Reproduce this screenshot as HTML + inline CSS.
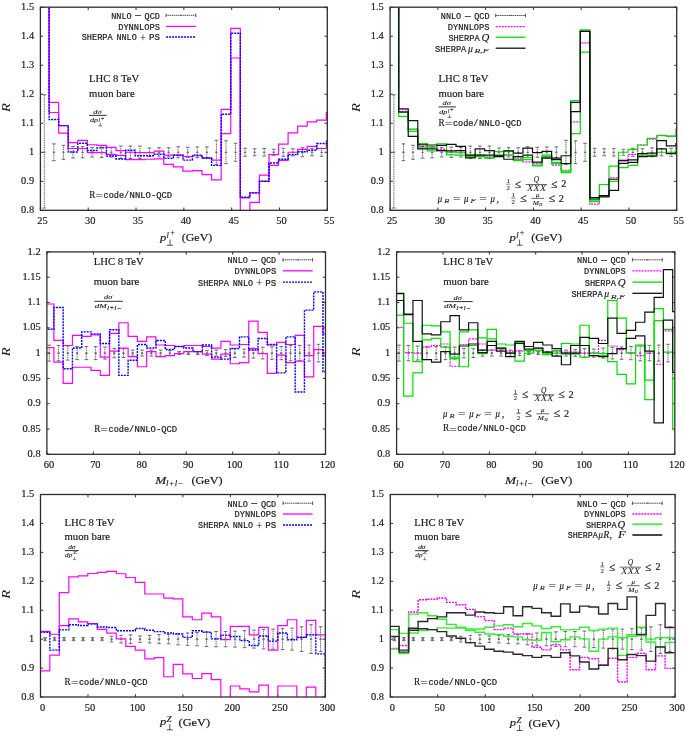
<!DOCTYPE html><html><head><meta charset="utf-8"><style>html,body{margin:0;padding:0;background:#fff;}svg{display:block;will-change:transform;}</style></head><body>
<svg width="685" height="738" viewBox="0 0 685 738">
<rect width="685" height="738" fill="#fff"/>
<clipPath id="c0"><rect x="40.4" y="7.2" width="286.9" height="203.1"/></clipPath>
<path d="M40.4,210.3h2.8M327.3,210.3h-2.8" stroke="#333" stroke-width="1" fill="none"/>
<text x="34.1" y="212.9" font-size="10.4" font-family='"Liberation Serif", serif' text-anchor="end" fill="#1a1a1a" stroke="#1a1a1a" stroke-width="0.18">0.8</text>
<path d="M40.4,181.29h2.8M327.3,181.29h-2.8" stroke="#333" stroke-width="1" fill="none"/>
<text x="34.1" y="183.89" font-size="10.4" font-family='"Liberation Serif", serif' text-anchor="end" fill="#1a1a1a" stroke="#1a1a1a" stroke-width="0.18">0.9</text>
<path d="M40.4,152.27h2.8M327.3,152.27h-2.8" stroke="#333" stroke-width="1" fill="none"/>
<text x="34.1" y="154.87" font-size="10.4" font-family='"Liberation Serif", serif' text-anchor="end" fill="#1a1a1a" stroke="#1a1a1a" stroke-width="0.18">1</text>
<path d="M40.4,123.26h2.8M327.3,123.26h-2.8" stroke="#333" stroke-width="1" fill="none"/>
<text x="34.1" y="125.86" font-size="10.4" font-family='"Liberation Serif", serif' text-anchor="end" fill="#1a1a1a" stroke="#1a1a1a" stroke-width="0.18">1.1</text>
<path d="M40.4,94.24h2.8M327.3,94.24h-2.8" stroke="#333" stroke-width="1" fill="none"/>
<text x="34.1" y="96.84" font-size="10.4" font-family='"Liberation Serif", serif' text-anchor="end" fill="#1a1a1a" stroke="#1a1a1a" stroke-width="0.18">1.2</text>
<path d="M40.4,65.23h2.8M327.3,65.23h-2.8" stroke="#333" stroke-width="1" fill="none"/>
<text x="34.1" y="67.83" font-size="10.4" font-family='"Liberation Serif", serif' text-anchor="end" fill="#1a1a1a" stroke="#1a1a1a" stroke-width="0.18">1.3</text>
<path d="M40.4,36.21h2.8M327.3,36.21h-2.8" stroke="#333" stroke-width="1" fill="none"/>
<text x="34.1" y="38.81" font-size="10.4" font-family='"Liberation Serif", serif' text-anchor="end" fill="#1a1a1a" stroke="#1a1a1a" stroke-width="0.18">1.4</text>
<path d="M40.4,7.2h2.8M327.3,7.2h-2.8" stroke="#333" stroke-width="1" fill="none"/>
<text x="34.1" y="9.8" font-size="10.4" font-family='"Liberation Serif", serif' text-anchor="end" fill="#1a1a1a" stroke="#1a1a1a" stroke-width="0.18">1.5</text>
<path d="M40.4,210.3v-2.8M40.4,7.2v2.8" stroke="#333" stroke-width="1" fill="none"/>
<text x="42.4" y="224.1" font-size="10.4" font-family='"Liberation Serif", serif' text-anchor="middle" fill="#1a1a1a" stroke="#1a1a1a" stroke-width="0.18">25</text>
<path d="M88.22,210.3v-2.8M88.22,7.2v2.8" stroke="#333" stroke-width="1" fill="none"/>
<text x="90.22" y="224.1" font-size="10.4" font-family='"Liberation Serif", serif' text-anchor="middle" fill="#1a1a1a" stroke="#1a1a1a" stroke-width="0.18">30</text>
<path d="M136.03,210.3v-2.8M136.03,7.2v2.8" stroke="#333" stroke-width="1" fill="none"/>
<text x="138.03" y="224.1" font-size="10.4" font-family='"Liberation Serif", serif' text-anchor="middle" fill="#1a1a1a" stroke="#1a1a1a" stroke-width="0.18">35</text>
<path d="M183.85,210.3v-2.8M183.85,7.2v2.8" stroke="#333" stroke-width="1" fill="none"/>
<text x="185.85" y="224.1" font-size="10.4" font-family='"Liberation Serif", serif' text-anchor="middle" fill="#1a1a1a" stroke="#1a1a1a" stroke-width="0.18">40</text>
<path d="M231.67,210.3v-2.8M231.67,7.2v2.8" stroke="#333" stroke-width="1" fill="none"/>
<text x="233.67" y="224.1" font-size="10.4" font-family='"Liberation Serif", serif' text-anchor="middle" fill="#1a1a1a" stroke="#1a1a1a" stroke-width="0.18">45</text>
<path d="M279.48,210.3v-2.8M279.48,7.2v2.8" stroke="#333" stroke-width="1" fill="none"/>
<text x="281.48" y="224.1" font-size="10.4" font-family='"Liberation Serif", serif' text-anchor="middle" fill="#1a1a1a" stroke="#1a1a1a" stroke-width="0.18">50</text>
<path d="M327.3,210.3v-2.8M327.3,7.2v2.8" stroke="#333" stroke-width="1" fill="none"/>
<text x="329.3" y="224.1" font-size="10.4" font-family='"Liberation Serif", serif' text-anchor="middle" fill="#1a1a1a" stroke="#1a1a1a" stroke-width="0.18">55</text>
<g clip-path="url(#c0)" fill="none">
<path d="M44.32,94.8V208" stroke="#5e5e5e" stroke-width="0.9" stroke-dasharray="1.2,0.6"/>
<path d="M42.52,94.8h3.6M42.52,208h3.6" stroke="#5e5e5e" stroke-width="0.9"/>
<path d="M43.12,152.27h2.4" stroke="#555" stroke-width="1.2"/>
<path d="M53.88,143.87V160.67" stroke="#5e5e5e" stroke-width="0.9" stroke-dasharray="1.2,0.6"/>
<path d="M52.08,143.87h3.6M52.08,160.67h3.6" stroke="#5e5e5e" stroke-width="0.9"/>
<path d="M52.68,152.27h2.4" stroke="#555" stroke-width="1.2"/>
<path d="M63.44,145.27V159.27" stroke="#5e5e5e" stroke-width="0.9" stroke-dasharray="1.2,0.6"/>
<path d="M61.64,145.27h3.6M61.64,159.27h3.6" stroke="#5e5e5e" stroke-width="0.9"/>
<path d="M62.24,152.27h2.4" stroke="#555" stroke-width="1.2"/>
<path d="M73,146.47V158.07" stroke="#5e5e5e" stroke-width="0.9" stroke-dasharray="1.2,0.6"/>
<path d="M71.2,146.47h3.6M71.2,158.07h3.6" stroke="#5e5e5e" stroke-width="0.9"/>
<path d="M71.8,152.27h2.4" stroke="#555" stroke-width="1.2"/>
<path d="M82.56,146.67V157.87" stroke="#5e5e5e" stroke-width="0.9" stroke-dasharray="1.2,0.6"/>
<path d="M80.76,146.67h3.6M80.76,157.87h3.6" stroke="#5e5e5e" stroke-width="0.9"/>
<path d="M81.36,152.27h2.4" stroke="#555" stroke-width="1.2"/>
<path d="M92.12,147.57V156.97" stroke="#5e5e5e" stroke-width="0.9" stroke-dasharray="1.2,0.6"/>
<path d="M90.32,147.57h3.6M90.32,156.97h3.6" stroke="#5e5e5e" stroke-width="0.9"/>
<path d="M90.92,152.27h2.4" stroke="#555" stroke-width="1.2"/>
<path d="M101.68,147.07V157.47" stroke="#5e5e5e" stroke-width="0.9" stroke-dasharray="1.2,0.6"/>
<path d="M99.88,147.07h3.6M99.88,157.47h3.6" stroke="#5e5e5e" stroke-width="0.9"/>
<path d="M100.48,152.27h2.4" stroke="#555" stroke-width="1.2"/>
<path d="M111.24,147.57V156.97" stroke="#5e5e5e" stroke-width="0.9" stroke-dasharray="1.2,0.6"/>
<path d="M109.44,147.57h3.6M109.44,156.97h3.6" stroke="#5e5e5e" stroke-width="0.9"/>
<path d="M110.04,152.27h2.4" stroke="#555" stroke-width="1.2"/>
<path d="M120.8,146.07V158.47" stroke="#5e5e5e" stroke-width="0.9" stroke-dasharray="1.2,0.6"/>
<path d="M119,146.07h3.6M119,158.47h3.6" stroke="#5e5e5e" stroke-width="0.9"/>
<path d="M119.6,152.27h2.4" stroke="#555" stroke-width="1.2"/>
<path d="M130.36,146.07V158.47" stroke="#5e5e5e" stroke-width="0.9" stroke-dasharray="1.2,0.6"/>
<path d="M128.56,146.07h3.6M128.56,158.47h3.6" stroke="#5e5e5e" stroke-width="0.9"/>
<path d="M129.16,152.27h2.4" stroke="#555" stroke-width="1.2"/>
<path d="M139.92,146.07V158.47" stroke="#5e5e5e" stroke-width="0.9" stroke-dasharray="1.2,0.6"/>
<path d="M138.12,146.07h3.6M138.12,158.47h3.6" stroke="#5e5e5e" stroke-width="0.9"/>
<path d="M138.72,152.27h2.4" stroke="#555" stroke-width="1.2"/>
<path d="M149.48,148.07V156.47" stroke="#5e5e5e" stroke-width="0.9" stroke-dasharray="1.2,0.6"/>
<path d="M147.68,148.07h3.6M147.68,156.47h3.6" stroke="#5e5e5e" stroke-width="0.9"/>
<path d="M148.28,152.27h2.4" stroke="#555" stroke-width="1.2"/>
<path d="M159.04,147.67V156.87" stroke="#5e5e5e" stroke-width="0.9" stroke-dasharray="1.2,0.6"/>
<path d="M157.24,147.67h3.6M157.24,156.87h3.6" stroke="#5e5e5e" stroke-width="0.9"/>
<path d="M157.84,152.27h2.4" stroke="#555" stroke-width="1.2"/>
<path d="M168.6,147.77V156.77" stroke="#5e5e5e" stroke-width="0.9" stroke-dasharray="1.2,0.6"/>
<path d="M166.8,147.77h3.6M166.8,156.77h3.6" stroke="#5e5e5e" stroke-width="0.9"/>
<path d="M167.4,152.27h2.4" stroke="#555" stroke-width="1.2"/>
<path d="M178.16,146.77V157.77" stroke="#5e5e5e" stroke-width="0.9" stroke-dasharray="1.2,0.6"/>
<path d="M176.36,146.77h3.6M176.36,157.77h3.6" stroke="#5e5e5e" stroke-width="0.9"/>
<path d="M176.96,152.27h2.4" stroke="#555" stroke-width="1.2"/>
<path d="M187.72,147.27V157.27" stroke="#5e5e5e" stroke-width="0.9" stroke-dasharray="1.2,0.6"/>
<path d="M185.92,147.27h3.6M185.92,157.27h3.6" stroke="#5e5e5e" stroke-width="0.9"/>
<path d="M186.52,152.27h2.4" stroke="#555" stroke-width="1.2"/>
<path d="M197.28,146.97V157.57" stroke="#5e5e5e" stroke-width="0.9" stroke-dasharray="1.2,0.6"/>
<path d="M195.48,146.97h3.6M195.48,157.57h3.6" stroke="#5e5e5e" stroke-width="0.9"/>
<path d="M196.08,152.27h2.4" stroke="#555" stroke-width="1.2"/>
<path d="M206.84,146.97V157.57" stroke="#5e5e5e" stroke-width="0.9" stroke-dasharray="1.2,0.6"/>
<path d="M205.04,146.97h3.6M205.04,157.57h3.6" stroke="#5e5e5e" stroke-width="0.9"/>
<path d="M205.64,152.27h2.4" stroke="#555" stroke-width="1.2"/>
<path d="M216.4,140.27V164.27" stroke="#5e5e5e" stroke-width="0.9" stroke-dasharray="1.2,0.6"/>
<path d="M214.6,140.27h3.6M214.6,164.27h3.6" stroke="#5e5e5e" stroke-width="0.9"/>
<path d="M215.2,152.27h2.4" stroke="#555" stroke-width="1.2"/>
<path d="M225.96,140.87V163.67" stroke="#5e5e5e" stroke-width="0.9" stroke-dasharray="1.2,0.6"/>
<path d="M224.16,140.87h3.6M224.16,163.67h3.6" stroke="#5e5e5e" stroke-width="0.9"/>
<path d="M224.76,152.27h2.4" stroke="#555" stroke-width="1.2"/>
<path d="M235.52,143.27V161.27" stroke="#5e5e5e" stroke-width="0.9" stroke-dasharray="1.2,0.6"/>
<path d="M233.72,143.27h3.6M233.72,161.27h3.6" stroke="#5e5e5e" stroke-width="0.9"/>
<path d="M234.32,152.27h2.4" stroke="#555" stroke-width="1.2"/>
<path d="M245.08,148.27V156.27" stroke="#5e5e5e" stroke-width="0.9" stroke-dasharray="1.2,0.6"/>
<path d="M243.28,148.27h3.6M243.28,156.27h3.6" stroke="#5e5e5e" stroke-width="0.9"/>
<path d="M243.88,152.27h2.4" stroke="#555" stroke-width="1.2"/>
<path d="M254.64,148.77V155.77" stroke="#5e5e5e" stroke-width="0.9" stroke-dasharray="1.2,0.6"/>
<path d="M252.84,148.77h3.6M252.84,155.77h3.6" stroke="#5e5e5e" stroke-width="0.9"/>
<path d="M253.44,152.27h2.4" stroke="#555" stroke-width="1.2"/>
<path d="M264.2,148.47V156.07" stroke="#5e5e5e" stroke-width="0.9" stroke-dasharray="1.2,0.6"/>
<path d="M262.4,148.47h3.6M262.4,156.07h3.6" stroke="#5e5e5e" stroke-width="0.9"/>
<path d="M263,152.27h2.4" stroke="#555" stroke-width="1.2"/>
<path d="M273.76,149.27V155.27" stroke="#5e5e5e" stroke-width="0.9" stroke-dasharray="1.2,0.6"/>
<path d="M271.96,149.27h3.6M271.96,155.27h3.6" stroke="#5e5e5e" stroke-width="0.9"/>
<path d="M272.56,152.27h2.4" stroke="#555" stroke-width="1.2"/>
<path d="M283.32,148.27V156.27" stroke="#5e5e5e" stroke-width="0.9" stroke-dasharray="1.2,0.6"/>
<path d="M281.52,148.27h3.6M281.52,156.27h3.6" stroke="#5e5e5e" stroke-width="0.9"/>
<path d="M282.12,152.27h2.4" stroke="#555" stroke-width="1.2"/>
<path d="M292.88,148.77V155.77" stroke="#5e5e5e" stroke-width="0.9" stroke-dasharray="1.2,0.6"/>
<path d="M291.08,148.77h3.6M291.08,155.77h3.6" stroke="#5e5e5e" stroke-width="0.9"/>
<path d="M291.68,152.27h2.4" stroke="#555" stroke-width="1.2"/>
<path d="M302.44,147.77V156.77" stroke="#5e5e5e" stroke-width="0.9" stroke-dasharray="1.2,0.6"/>
<path d="M300.64,147.77h3.6M300.64,156.77h3.6" stroke="#5e5e5e" stroke-width="0.9"/>
<path d="M301.24,152.27h2.4" stroke="#555" stroke-width="1.2"/>
<path d="M312,148.77V155.77" stroke="#5e5e5e" stroke-width="0.9" stroke-dasharray="1.2,0.6"/>
<path d="M310.2,148.77h3.6M310.2,155.77h3.6" stroke="#5e5e5e" stroke-width="0.9"/>
<path d="M310.8,152.27h2.4" stroke="#555" stroke-width="1.2"/>
<path d="M321.56,148.27V156.27" stroke="#5e5e5e" stroke-width="0.9" stroke-dasharray="1.2,0.6"/>
<path d="M319.76,148.27h3.6M319.76,156.27h3.6" stroke="#5e5e5e" stroke-width="0.9"/>
<path d="M320.36,152.27h2.4" stroke="#555" stroke-width="1.2"/>
<path d="M39.54,-21.81H49.1V102.37H58.66V133.12H68.22V142.7H77.78V140.38H87.34V144.73H96.9V145.31H106.46V147.34H116.02V150.53H125.58V152.27H135.14V152.56H144.7V152.56H154.26V151.11H163.82V155.17H173.38V155.17H182.94V156.62H192.5V155.75H202.06V158.07H211.62V160.11H221.18V109.33H230.74V28.38H240.3V197.82H249.86V192.89H259.42V175.19H268.98V154.59H278.54V144.15H288.1V132.83H297.66V126.16H307.22V121.81H316.78V120.07H326.34V112.52H335.9" stroke="#ff00ff" stroke-width="1.2" stroke-linejoin="miter"/>
<path d="M39.54,-21.81H49.1V112.52H58.66V125.58H68.22V148.5H77.78V148.5H87.34V152.56H96.9V152.56H106.46V154.3H116.02V155.46H125.58V159.53H135.14V159.53H144.7V159.23H154.26V158.94H163.82V164.46H173.38V166.78H182.94V171.13H192.5V170.55H202.06V174.61H211.62V179.84H221.18V133.7H230.74V57.98H240.3V224.81H249.86V202.47H259.42V181.29H268.98V165.33H278.54V160.4H288.1V152.27H297.66V149.37H307.22V146.47H316.78V148.5H326.34V140.67H335.9" stroke="#ff00ff" stroke-width="1.2" stroke-linejoin="miter"/>
<path d="M39.54,-21.81H49.1V119.49H58.66V125.58H68.22V151.98H77.78V143.28H87.34V150.53H96.9V147.92H106.46V156.04H116.02V158.94H125.58V150.24H135.14V155.75H144.7V155.75H154.26V154.3H163.82V158.36H173.38V155.17H182.94V160.11H192.5V155.17H202.06V158.07H211.62V165.33H221.18V114.26H230.74V33.31H240.3V197.24H249.86V192.89H259.42V181.29H268.98V163.01H278.54V159.23H288.1V154.59H297.66V151.69H307.22V150.24H316.78V143.57H326.34V143.57H335.9" stroke="#0000ff" stroke-width="1.4" stroke-dasharray="2,1" stroke-linejoin="miter"/>
</g>
<rect x="40.4" y="7.2" width="286.9" height="203.1" fill="none" stroke="#2e2e2e" stroke-width="1.3"/>
<text x="0" y="0" font-size="11.8" font-family='"Liberation Serif", serif' font-style="italic" text-anchor="middle" textLength="8.8" lengthAdjust="spacingAndGlyphs" fill="#1a1a1a" transform="translate(10.1,107.5) rotate(-90)">R</text>
<text x="111.2" y="18.7" font-size="9.2" font-family='"Liberation Mono", monospace' text-anchor="start" fill="#1a1a1a" textLength="20.4" lengthAdjust="spacingAndGlyphs" stroke="#1a1a1a" stroke-width="0.2">NNLO</text>
<text x="137.8" y="19.3" font-size="11" font-family='"Liberation Serif", serif' text-anchor="middle" fill="#1a1a1a" textLength="7" lengthAdjust="spacingAndGlyphs" stroke="#1a1a1a" stroke-width="0.1">−</text>
<text x="144.6" y="18.7" font-size="9.2" font-family='"Liberation Mono", monospace' text-anchor="start" fill="#1a1a1a" textLength="15.3" lengthAdjust="spacingAndGlyphs" stroke="#1a1a1a" stroke-width="0.2">QCD</text>
<path d="M166.1,15.3H195.8" stroke="#4a4a4a" stroke-width="0.95" stroke-dasharray="1.4,0.5" fill="none"/>
<path d="M166.1,13.6v3.4M195.8,13.6v3.4" stroke="#4a4a4a" stroke-width="0.95" fill="none"/>
<path d="M179.75,15.9l1.2,-1.6l1.2,1.6z" fill="#666"/>
<text x="118.2" y="29.8" font-size="9.2" font-family='"Liberation Mono", monospace' text-anchor="start" fill="#1a1a1a" textLength="41.7" lengthAdjust="spacingAndGlyphs" stroke="#1a1a1a" stroke-width="0.2">DYNNLOPS</text>
<path d="M166.1,26.4H195.8" stroke="#ff00ff" stroke-width="1.3" fill="none"/>
<text x="81.7" y="40.4" font-size="9.2" font-family='"Liberation Mono", monospace' text-anchor="start" fill="#1a1a1a" textLength="30.9" lengthAdjust="spacingAndGlyphs" stroke="#1a1a1a" stroke-width="0.2">SHERPA</text>
<text x="116.5" y="40.4" font-size="9.2" font-family='"Liberation Mono", monospace' text-anchor="start" fill="#1a1a1a" textLength="20.2" lengthAdjust="spacingAndGlyphs" stroke="#1a1a1a" stroke-width="0.2">NNLO</text>
<text x="142.9" y="42.3" font-size="12.6" font-family='"Liberation Serif", serif' text-anchor="middle" fill="#1a1a1a" textLength="6.4" lengthAdjust="spacingAndGlyphs" >+</text>
<text x="148.9" y="40.4" font-size="9.2" font-family='"Liberation Mono", monospace' text-anchor="start" fill="#1a1a1a" textLength="11" lengthAdjust="spacingAndGlyphs" stroke="#1a1a1a" stroke-width="0.2">PS</text>
<path d="M166.1,37H195.8" stroke="#0000ff" stroke-width="1.3" stroke-dasharray="2,1" fill="none"/>
<text x="89.1" y="82.3" font-size="10.2" font-family='"Liberation Serif", serif' text-anchor="start" fill="#1a1a1a" textLength="50" lengthAdjust="spacingAndGlyphs" stroke="#1a1a1a" stroke-width="0.18">LHC 8 TeV</text>
<text x="89.1" y="96.8" font-size="10.2" font-family='"Liberation Serif", serif' text-anchor="start" fill="#1a1a1a" textLength="45.6" lengthAdjust="spacingAndGlyphs" stroke="#1a1a1a" stroke-width="0.18">muon bare</text>
<path d="M89.2,115.4H106.7" stroke="#1a1a1a" stroke-width="0.9"/>
<text x="97.45" y="113.5" font-size="6.8" font-family='"Liberation Serif", serif' text-anchor="middle" fill="#1a1a1a" font-style="italic" textLength="8.3" lengthAdjust="spacingAndGlyphs" stroke="#1a1a1a" stroke-width="0.1">dσ</text>
<text x="90" y="122.1" font-size="6.8" font-family='"Liberation Serif", serif' text-anchor="start" fill="#1a1a1a" font-style="italic" textLength="8" lengthAdjust="spacingAndGlyphs" stroke="#1a1a1a" stroke-width="0.1">dp</text>
<text x="98.5" y="121.6" font-size="5.6" font-family='"Liberation Serif", serif' text-anchor="start" fill="#1a1a1a" font-style="italic" stroke="#1a1a1a" stroke-width="0.1">l</text>
<text x="102.6" y="120.6" font-size="6.6" font-family='"Liberation Serif", serif' text-anchor="middle" fill="#1a1a1a" textLength="3.2" lengthAdjust="spacingAndGlyphs" stroke="#1a1a1a" stroke-width="0.1">+</text>
<path d="M98.5,125.9H102.1M100.3,125.9V122.9" stroke="#1a1a1a" stroke-width="0.6" fill="none"/>
<text x="89.3" y="197.9" font-size="10.2" font-family='"Liberation Serif", serif' text-anchor="start" fill="#1a1a1a" textLength="6.1" lengthAdjust="spacingAndGlyphs" stroke="#1a1a1a" stroke-width="0.18">R</text>
<text x="95.6" y="199.1" font-size="11.2" font-family='"Liberation Serif", serif' text-anchor="start" fill="#1a1a1a" textLength="7.4" lengthAdjust="spacingAndGlyphs" stroke="#1a1a1a" stroke-width="0.18">=</text>
<text x="103.6" y="197.9" font-size="8.4" font-family='"Liberation Mono", monospace' text-anchor="start" fill="#1a1a1a" textLength="25.6" lengthAdjust="spacingAndGlyphs" stroke="#1a1a1a" stroke-width="0.2">code/</text>
<text x="129.6" y="197.9" font-size="9.2" font-family='"Liberation Mono", monospace' text-anchor="start" fill="#1a1a1a" textLength="42.6" lengthAdjust="spacingAndGlyphs" stroke="#1a1a1a" stroke-width="0.2">NNLO-QCD</text>
<text x="160" y="240.7" font-size="10.6" font-family='"Liberation Serif", serif' text-anchor="start" fill="#1a1a1a" font-style="italic" textLength="6.3" lengthAdjust="spacingAndGlyphs" stroke="#1a1a1a" stroke-width="0.18">p</text>
<text x="166.6" y="237.9" font-size="8" font-family='"Liberation Serif", serif' text-anchor="start" fill="#1a1a1a" font-style="italic" textLength="2.4" lengthAdjust="spacingAndGlyphs" stroke="#1a1a1a" stroke-width="0.1">l</text>
<text x="170.2" y="235" font-size="7.6" font-family='"Liberation Serif", serif' text-anchor="start" fill="#1a1a1a" textLength="4.6" lengthAdjust="spacingAndGlyphs" stroke="#1a1a1a" stroke-width="0.1">+</text>
<path d="M167,245.2H173M170,245.2V239.6" stroke="#1a1a1a" stroke-width="0.75" fill="none"/>
<text x="181.7" y="241.3" font-size="10.4" font-family='"Liberation Serif", serif' text-anchor="start" fill="#1a1a1a" textLength="30.6" lengthAdjust="spacingAndGlyphs" stroke="#1a1a1a" stroke-width="0.18">(GeV)</text>
<clipPath id="c1"><rect x="390.1" y="7.2" width="286.6" height="203.1"/></clipPath>
<path d="M390.1,210.3h2.8M676.7,210.3h-2.8" stroke="#333" stroke-width="1" fill="none"/>
<text x="383.8" y="212.9" font-size="10.4" font-family='"Liberation Serif", serif' text-anchor="end" fill="#1a1a1a" stroke="#1a1a1a" stroke-width="0.18">0.8</text>
<path d="M390.1,181.29h2.8M676.7,181.29h-2.8" stroke="#333" stroke-width="1" fill="none"/>
<text x="383.8" y="183.89" font-size="10.4" font-family='"Liberation Serif", serif' text-anchor="end" fill="#1a1a1a" stroke="#1a1a1a" stroke-width="0.18">0.9</text>
<path d="M390.1,152.27h2.8M676.7,152.27h-2.8" stroke="#333" stroke-width="1" fill="none"/>
<text x="383.8" y="154.87" font-size="10.4" font-family='"Liberation Serif", serif' text-anchor="end" fill="#1a1a1a" stroke="#1a1a1a" stroke-width="0.18">1</text>
<path d="M390.1,123.26h2.8M676.7,123.26h-2.8" stroke="#333" stroke-width="1" fill="none"/>
<text x="383.8" y="125.86" font-size="10.4" font-family='"Liberation Serif", serif' text-anchor="end" fill="#1a1a1a" stroke="#1a1a1a" stroke-width="0.18">1.1</text>
<path d="M390.1,94.24h2.8M676.7,94.24h-2.8" stroke="#333" stroke-width="1" fill="none"/>
<text x="383.8" y="96.84" font-size="10.4" font-family='"Liberation Serif", serif' text-anchor="end" fill="#1a1a1a" stroke="#1a1a1a" stroke-width="0.18">1.2</text>
<path d="M390.1,65.23h2.8M676.7,65.23h-2.8" stroke="#333" stroke-width="1" fill="none"/>
<text x="383.8" y="67.83" font-size="10.4" font-family='"Liberation Serif", serif' text-anchor="end" fill="#1a1a1a" stroke="#1a1a1a" stroke-width="0.18">1.3</text>
<path d="M390.1,36.21h2.8M676.7,36.21h-2.8" stroke="#333" stroke-width="1" fill="none"/>
<text x="383.8" y="38.81" font-size="10.4" font-family='"Liberation Serif", serif' text-anchor="end" fill="#1a1a1a" stroke="#1a1a1a" stroke-width="0.18">1.4</text>
<path d="M390.1,7.2h2.8M676.7,7.2h-2.8" stroke="#333" stroke-width="1" fill="none"/>
<text x="383.8" y="9.8" font-size="10.4" font-family='"Liberation Serif", serif' text-anchor="end" fill="#1a1a1a" stroke="#1a1a1a" stroke-width="0.18">1.5</text>
<path d="M390.1,210.3v-2.8M390.1,7.2v2.8" stroke="#333" stroke-width="1" fill="none"/>
<text x="392.1" y="224.1" font-size="10.4" font-family='"Liberation Serif", serif' text-anchor="middle" fill="#1a1a1a" stroke="#1a1a1a" stroke-width="0.18">25</text>
<path d="M437.87,210.3v-2.8M437.87,7.2v2.8" stroke="#333" stroke-width="1" fill="none"/>
<text x="439.87" y="224.1" font-size="10.4" font-family='"Liberation Serif", serif' text-anchor="middle" fill="#1a1a1a" stroke="#1a1a1a" stroke-width="0.18">30</text>
<path d="M485.63,210.3v-2.8M485.63,7.2v2.8" stroke="#333" stroke-width="1" fill="none"/>
<text x="487.63" y="224.1" font-size="10.4" font-family='"Liberation Serif", serif' text-anchor="middle" fill="#1a1a1a" stroke="#1a1a1a" stroke-width="0.18">35</text>
<path d="M533.4,210.3v-2.8M533.4,7.2v2.8" stroke="#333" stroke-width="1" fill="none"/>
<text x="535.4" y="224.1" font-size="10.4" font-family='"Liberation Serif", serif' text-anchor="middle" fill="#1a1a1a" stroke="#1a1a1a" stroke-width="0.18">40</text>
<path d="M581.17,210.3v-2.8M581.17,7.2v2.8" stroke="#333" stroke-width="1" fill="none"/>
<text x="583.17" y="224.1" font-size="10.4" font-family='"Liberation Serif", serif' text-anchor="middle" fill="#1a1a1a" stroke="#1a1a1a" stroke-width="0.18">45</text>
<path d="M628.93,210.3v-2.8M628.93,7.2v2.8" stroke="#333" stroke-width="1" fill="none"/>
<text x="630.93" y="224.1" font-size="10.4" font-family='"Liberation Serif", serif' text-anchor="middle" fill="#1a1a1a" stroke="#1a1a1a" stroke-width="0.18">50</text>
<path d="M676.7,210.3v-2.8M676.7,7.2v2.8" stroke="#333" stroke-width="1" fill="none"/>
<text x="678.7" y="224.1" font-size="10.4" font-family='"Liberation Serif", serif' text-anchor="middle" fill="#1a1a1a" stroke="#1a1a1a" stroke-width="0.18">55</text>
<g clip-path="url(#c1)" fill="none">
<path d="M393.88,94.8V208" stroke="#5e5e5e" stroke-width="0.9" stroke-dasharray="1.2,0.6"/>
<path d="M392.08,94.8h3.6M392.08,208h3.6" stroke="#5e5e5e" stroke-width="0.9"/>
<path d="M392.68,152.27h2.4" stroke="#555" stroke-width="1.2"/>
<path d="M403.44,143.87V160.67" stroke="#5e5e5e" stroke-width="0.9" stroke-dasharray="1.2,0.6"/>
<path d="M401.64,143.87h3.6M401.64,160.67h3.6" stroke="#5e5e5e" stroke-width="0.9"/>
<path d="M402.24,152.27h2.4" stroke="#555" stroke-width="1.2"/>
<path d="M413,145.27V159.27" stroke="#5e5e5e" stroke-width="0.9" stroke-dasharray="1.2,0.6"/>
<path d="M411.2,145.27h3.6M411.2,159.27h3.6" stroke="#5e5e5e" stroke-width="0.9"/>
<path d="M411.8,152.27h2.4" stroke="#555" stroke-width="1.2"/>
<path d="M422.56,146.47V158.07" stroke="#5e5e5e" stroke-width="0.9" stroke-dasharray="1.2,0.6"/>
<path d="M420.76,146.47h3.6M420.76,158.07h3.6" stroke="#5e5e5e" stroke-width="0.9"/>
<path d="M421.36,152.27h2.4" stroke="#555" stroke-width="1.2"/>
<path d="M432.12,146.67V157.87" stroke="#5e5e5e" stroke-width="0.9" stroke-dasharray="1.2,0.6"/>
<path d="M430.32,146.67h3.6M430.32,157.87h3.6" stroke="#5e5e5e" stroke-width="0.9"/>
<path d="M430.92,152.27h2.4" stroke="#555" stroke-width="1.2"/>
<path d="M441.68,147.57V156.97" stroke="#5e5e5e" stroke-width="0.9" stroke-dasharray="1.2,0.6"/>
<path d="M439.88,147.57h3.6M439.88,156.97h3.6" stroke="#5e5e5e" stroke-width="0.9"/>
<path d="M440.48,152.27h2.4" stroke="#555" stroke-width="1.2"/>
<path d="M451.24,147.07V157.47" stroke="#5e5e5e" stroke-width="0.9" stroke-dasharray="1.2,0.6"/>
<path d="M449.44,147.07h3.6M449.44,157.47h3.6" stroke="#5e5e5e" stroke-width="0.9"/>
<path d="M450.04,152.27h2.4" stroke="#555" stroke-width="1.2"/>
<path d="M460.8,147.57V156.97" stroke="#5e5e5e" stroke-width="0.9" stroke-dasharray="1.2,0.6"/>
<path d="M459,147.57h3.6M459,156.97h3.6" stroke="#5e5e5e" stroke-width="0.9"/>
<path d="M459.6,152.27h2.4" stroke="#555" stroke-width="1.2"/>
<path d="M470.36,146.07V158.47" stroke="#5e5e5e" stroke-width="0.9" stroke-dasharray="1.2,0.6"/>
<path d="M468.56,146.07h3.6M468.56,158.47h3.6" stroke="#5e5e5e" stroke-width="0.9"/>
<path d="M469.16,152.27h2.4" stroke="#555" stroke-width="1.2"/>
<path d="M479.92,146.07V158.47" stroke="#5e5e5e" stroke-width="0.9" stroke-dasharray="1.2,0.6"/>
<path d="M478.12,146.07h3.6M478.12,158.47h3.6" stroke="#5e5e5e" stroke-width="0.9"/>
<path d="M478.72,152.27h2.4" stroke="#555" stroke-width="1.2"/>
<path d="M489.48,146.07V158.47" stroke="#5e5e5e" stroke-width="0.9" stroke-dasharray="1.2,0.6"/>
<path d="M487.68,146.07h3.6M487.68,158.47h3.6" stroke="#5e5e5e" stroke-width="0.9"/>
<path d="M488.28,152.27h2.4" stroke="#555" stroke-width="1.2"/>
<path d="M499.04,148.07V156.47" stroke="#5e5e5e" stroke-width="0.9" stroke-dasharray="1.2,0.6"/>
<path d="M497.24,148.07h3.6M497.24,156.47h3.6" stroke="#5e5e5e" stroke-width="0.9"/>
<path d="M497.84,152.27h2.4" stroke="#555" stroke-width="1.2"/>
<path d="M508.6,147.67V156.87" stroke="#5e5e5e" stroke-width="0.9" stroke-dasharray="1.2,0.6"/>
<path d="M506.8,147.67h3.6M506.8,156.87h3.6" stroke="#5e5e5e" stroke-width="0.9"/>
<path d="M507.4,152.27h2.4" stroke="#555" stroke-width="1.2"/>
<path d="M518.16,147.77V156.77" stroke="#5e5e5e" stroke-width="0.9" stroke-dasharray="1.2,0.6"/>
<path d="M516.36,147.77h3.6M516.36,156.77h3.6" stroke="#5e5e5e" stroke-width="0.9"/>
<path d="M516.96,152.27h2.4" stroke="#555" stroke-width="1.2"/>
<path d="M527.72,146.77V157.77" stroke="#5e5e5e" stroke-width="0.9" stroke-dasharray="1.2,0.6"/>
<path d="M525.92,146.77h3.6M525.92,157.77h3.6" stroke="#5e5e5e" stroke-width="0.9"/>
<path d="M526.52,152.27h2.4" stroke="#555" stroke-width="1.2"/>
<path d="M537.28,147.27V157.27" stroke="#5e5e5e" stroke-width="0.9" stroke-dasharray="1.2,0.6"/>
<path d="M535.48,147.27h3.6M535.48,157.27h3.6" stroke="#5e5e5e" stroke-width="0.9"/>
<path d="M536.08,152.27h2.4" stroke="#555" stroke-width="1.2"/>
<path d="M546.84,146.97V157.57" stroke="#5e5e5e" stroke-width="0.9" stroke-dasharray="1.2,0.6"/>
<path d="M545.04,146.97h3.6M545.04,157.57h3.6" stroke="#5e5e5e" stroke-width="0.9"/>
<path d="M545.64,152.27h2.4" stroke="#555" stroke-width="1.2"/>
<path d="M556.4,146.97V157.57" stroke="#5e5e5e" stroke-width="0.9" stroke-dasharray="1.2,0.6"/>
<path d="M554.6,146.97h3.6M554.6,157.57h3.6" stroke="#5e5e5e" stroke-width="0.9"/>
<path d="M555.2,152.27h2.4" stroke="#555" stroke-width="1.2"/>
<path d="M565.96,140.27V164.27" stroke="#5e5e5e" stroke-width="0.9" stroke-dasharray="1.2,0.6"/>
<path d="M564.16,140.27h3.6M564.16,164.27h3.6" stroke="#5e5e5e" stroke-width="0.9"/>
<path d="M564.76,152.27h2.4" stroke="#555" stroke-width="1.2"/>
<path d="M575.52,140.87V163.67" stroke="#5e5e5e" stroke-width="0.9" stroke-dasharray="1.2,0.6"/>
<path d="M573.72,140.87h3.6M573.72,163.67h3.6" stroke="#5e5e5e" stroke-width="0.9"/>
<path d="M574.32,152.27h2.4" stroke="#555" stroke-width="1.2"/>
<path d="M585.08,143.27V161.27" stroke="#5e5e5e" stroke-width="0.9" stroke-dasharray="1.2,0.6"/>
<path d="M583.28,143.27h3.6M583.28,161.27h3.6" stroke="#5e5e5e" stroke-width="0.9"/>
<path d="M583.88,152.27h2.4" stroke="#555" stroke-width="1.2"/>
<path d="M594.64,148.27V156.27" stroke="#5e5e5e" stroke-width="0.9" stroke-dasharray="1.2,0.6"/>
<path d="M592.84,148.27h3.6M592.84,156.27h3.6" stroke="#5e5e5e" stroke-width="0.9"/>
<path d="M593.44,152.27h2.4" stroke="#555" stroke-width="1.2"/>
<path d="M604.2,148.77V155.77" stroke="#5e5e5e" stroke-width="0.9" stroke-dasharray="1.2,0.6"/>
<path d="M602.4,148.77h3.6M602.4,155.77h3.6" stroke="#5e5e5e" stroke-width="0.9"/>
<path d="M603,152.27h2.4" stroke="#555" stroke-width="1.2"/>
<path d="M613.76,148.47V156.07" stroke="#5e5e5e" stroke-width="0.9" stroke-dasharray="1.2,0.6"/>
<path d="M611.96,148.47h3.6M611.96,156.07h3.6" stroke="#5e5e5e" stroke-width="0.9"/>
<path d="M612.56,152.27h2.4" stroke="#555" stroke-width="1.2"/>
<path d="M623.32,149.27V155.27" stroke="#5e5e5e" stroke-width="0.9" stroke-dasharray="1.2,0.6"/>
<path d="M621.52,149.27h3.6M621.52,155.27h3.6" stroke="#5e5e5e" stroke-width="0.9"/>
<path d="M622.12,152.27h2.4" stroke="#555" stroke-width="1.2"/>
<path d="M632.88,148.27V156.27" stroke="#5e5e5e" stroke-width="0.9" stroke-dasharray="1.2,0.6"/>
<path d="M631.08,148.27h3.6M631.08,156.27h3.6" stroke="#5e5e5e" stroke-width="0.9"/>
<path d="M631.68,152.27h2.4" stroke="#555" stroke-width="1.2"/>
<path d="M642.44,148.77V155.77" stroke="#5e5e5e" stroke-width="0.9" stroke-dasharray="1.2,0.6"/>
<path d="M640.64,148.77h3.6M640.64,155.77h3.6" stroke="#5e5e5e" stroke-width="0.9"/>
<path d="M641.24,152.27h2.4" stroke="#555" stroke-width="1.2"/>
<path d="M652,147.77V156.77" stroke="#5e5e5e" stroke-width="0.9" stroke-dasharray="1.2,0.6"/>
<path d="M650.2,147.77h3.6M650.2,156.77h3.6" stroke="#5e5e5e" stroke-width="0.9"/>
<path d="M650.8,152.27h2.4" stroke="#555" stroke-width="1.2"/>
<path d="M661.56,148.77V155.77" stroke="#5e5e5e" stroke-width="0.9" stroke-dasharray="1.2,0.6"/>
<path d="M659.76,148.77h3.6M659.76,155.77h3.6" stroke="#5e5e5e" stroke-width="0.9"/>
<path d="M660.36,152.27h2.4" stroke="#555" stroke-width="1.2"/>
<path d="M671.12,148.27V156.27" stroke="#5e5e5e" stroke-width="0.9" stroke-dasharray="1.2,0.6"/>
<path d="M669.32,148.27h3.6M669.32,156.27h3.6" stroke="#5e5e5e" stroke-width="0.9"/>
<path d="M669.92,152.27h2.4" stroke="#555" stroke-width="1.2"/>
<path d="M389.1,-21.81H398.66V109.62H408.22V129.06H417.78V146.18H427.34V147.05H436.9V149.37H446.46V152.27H456.02V152.85H465.58V155.75H475.14V156.62H484.7V156.91H494.26V155.17H503.82V154.88H513.38V158.07H522.94V161.85H532.5V163.59H542.06V157.49H551.62V165.04H561.18V170.26H570.74V121.81H580.3V42.89H589.86V204.21H599.42V196.37H608.98V177.8H618.54V161.27H628.1V154.3H637.66V145.02H647.22V139.22H656.78V135.73H666.34V135.73H675.9V134.86H685.46" stroke="#ff00ff" stroke-width="1.2" stroke-dasharray="2,1" stroke-linejoin="miter"/>
<path d="M389.1,-21.81H398.66V112.52H408.22V129.35H417.78V143.57H427.34V147.05H436.9V143.86H446.46V152.27H456.02V152.27H465.58V155.17H475.14V155.17H484.7V157.49H494.26V151.69H503.82V151.11H513.38V160.69H522.94V157.49H532.5V165.91H542.06V155.17H551.62V163.59H561.18V172.58H570.74V100.63H580.3V29.95H589.86V200.15H599.42V184.48H608.98V166.2H618.54V152.27H628.1V149.37H637.66V145.02H647.22V138.34H656.78V135.44H666.34V136.31H675.9V129.06H685.46" stroke="#00e000" stroke-width="1.2" stroke-linejoin="miter"/>
<path d="M389.1,-21.81H398.66V116.29H408.22V131.38H417.78V147.92H427.34V150.82H436.9V150.53H446.46V154.88H456.02V155.17H465.58V156.62H475.14V156.62H484.7V158.07H494.26V155.17H503.82V155.17H513.38V159.53H522.94V159.53H532.5V165.33H542.06V156.62H551.62V162.43H561.18V171.13H570.74V133.7H580.3V52.17H589.86V201.6H599.42V195.79H608.98V181.29H618.54V167.65H628.1V165.33H637.66V155.17H647.22V155.17H656.78V152.27H666.34V152.27H675.9V146.47H685.46" stroke="#00e000" stroke-width="1.2" stroke-linejoin="miter"/>
<path d="M389.1,-21.81H398.66V108.75H408.22V120.65H417.78V144.73H427.34V145.02H436.9V145.45H446.46V144.44H456.02V146.47H465.58V155.17H475.14V148.79H484.7V150.53H494.26V155.75H503.82V150.82H513.38V153.14H522.94V148.21H532.5V152.56H542.06V151.4H551.62V158.07H561.18V155.75H570.74V102.37H580.3V31.28H589.86V197.53H599.42V195.5H608.98V179.25H618.54V160.4H628.1V159.82H637.66V153.72H647.22V153.14H656.78V140.67H666.34V145.89H675.9V143.57H685.46" stroke="#111111" stroke-width="1.2" stroke-linejoin="miter"/>
<path d="M389.1,-21.81H398.66V111.94H408.22V136.31H417.78V148.79H427.34V148.79H436.9V150.53H446.46V150.82H456.02V150.53H465.58V157.78H475.14V155.17H484.7V155.17H494.26V156.62H503.82V159.23H513.38V156.62H522.94V155.17H532.5V162.14H542.06V158.07H551.62V159.53H561.18V163.59H570.74V111.65H580.3V31.28H589.86V198.98H599.42V196.95H608.98V190.28H618.54V163.3H628.1V162.43H637.66V156.62H647.22V156.04H656.78V148.79H666.34V153.72H675.9V152.27H685.46" stroke="#111111" stroke-width="1.2" stroke-linejoin="miter"/>
</g>
<rect x="390.1" y="7.2" width="286.6" height="203.1" fill="none" stroke="#2e2e2e" stroke-width="1.3"/>
<text x="0" y="0" font-size="11.8" font-family='"Liberation Serif", serif' font-style="italic" text-anchor="middle" textLength="8.8" lengthAdjust="spacingAndGlyphs" fill="#1a1a1a" transform="translate(359.8,107.5) rotate(-90)">R</text>
<text x="440.8" y="18.9" font-size="9.2" font-family='"Liberation Mono", monospace' text-anchor="start" fill="#1a1a1a" textLength="20.4" lengthAdjust="spacingAndGlyphs" stroke="#1a1a1a" stroke-width="0.2">NNLO</text>
<text x="467.4" y="19.5" font-size="11" font-family='"Liberation Serif", serif' text-anchor="middle" fill="#1a1a1a" textLength="7" lengthAdjust="spacingAndGlyphs" stroke="#1a1a1a" stroke-width="0.1">−</text>
<text x="474.2" y="18.9" font-size="9.2" font-family='"Liberation Mono", monospace' text-anchor="start" fill="#1a1a1a" textLength="15.3" lengthAdjust="spacingAndGlyphs" stroke="#1a1a1a" stroke-width="0.2">QCD</text>
<path d="M495.7,15.5H525.5" stroke="#4a4a4a" stroke-width="0.95" stroke-dasharray="1.4,0.5" fill="none"/>
<path d="M495.7,13.8v3.4M525.5,13.8v3.4" stroke="#4a4a4a" stroke-width="0.95" fill="none"/>
<path d="M509.4,16.1l1.2,-1.6l1.2,1.6z" fill="#666"/>
<text x="447.8" y="30" font-size="9.2" font-family='"Liberation Mono", monospace' text-anchor="start" fill="#1a1a1a" textLength="41.7" lengthAdjust="spacingAndGlyphs" stroke="#1a1a1a" stroke-width="0.2">DYNNLOPS</text>
<path d="M495.7,26.6H525.5" stroke="#ff00ff" stroke-width="1.3" stroke-dasharray="2,1" fill="none"/>
<text x="448.4" y="40.6" font-size="9.2" font-family='"Liberation Mono", monospace' text-anchor="start" fill="#1a1a1a" textLength="31.2" lengthAdjust="spacingAndGlyphs" stroke="#1a1a1a" stroke-width="0.2">SHERPA</text>
<text x="481.4" y="40.6" font-size="10.4" font-family='"Liberation Serif", serif' text-anchor="start" fill="#1a1a1a" font-style="italic" textLength="7.8" lengthAdjust="spacingAndGlyphs" stroke="#1a1a1a" stroke-width="0.18">Q</text>
<path d="M495.7,37.2H525.5" stroke="#00e000" stroke-width="1.3" fill="none"/>
<text x="435.1" y="51.6" font-size="9.2" font-family='"Liberation Mono", monospace' text-anchor="start" fill="#1a1a1a" textLength="31.2" lengthAdjust="spacingAndGlyphs" stroke="#1a1a1a" stroke-width="0.2">SHERPA</text>
<text x="467.9" y="51.6" font-size="10.4" font-family='"Liberation Serif", serif' text-anchor="start" fill="#1a1a1a" font-style="italic" textLength="4.9" lengthAdjust="spacingAndGlyphs" stroke="#1a1a1a" stroke-width="0.18">μ</text>
<text x="474.5" y="53.4" font-size="6.8" font-family='"Liberation Serif", serif' text-anchor="start" fill="#1a1a1a" font-style="italic" textLength="14" lengthAdjust="spacingAndGlyphs" stroke="#1a1a1a" stroke-width="0.1">R,F</text>
<path d="M495.7,48.2H525.5" stroke="#111111" stroke-width="1.3" fill="none"/>
<text x="438.5" y="81.8" font-size="10.2" font-family='"Liberation Serif", serif' text-anchor="start" fill="#1a1a1a" textLength="50" lengthAdjust="spacingAndGlyphs" stroke="#1a1a1a" stroke-width="0.18">LHC 8 TeV</text>
<text x="438.5" y="96.8" font-size="10.2" font-family='"Liberation Serif", serif' text-anchor="start" fill="#1a1a1a" textLength="45.6" lengthAdjust="spacingAndGlyphs" stroke="#1a1a1a" stroke-width="0.18">muon bare</text>
<path d="M438.5,106.9H456" stroke="#1a1a1a" stroke-width="0.9"/>
<text x="446.75" y="105" font-size="6.8" font-family='"Liberation Serif", serif' text-anchor="middle" fill="#1a1a1a" font-style="italic" textLength="8.3" lengthAdjust="spacingAndGlyphs" stroke="#1a1a1a" stroke-width="0.1">dσ</text>
<text x="439.3" y="113.6" font-size="6.8" font-family='"Liberation Serif", serif' text-anchor="start" fill="#1a1a1a" font-style="italic" textLength="8" lengthAdjust="spacingAndGlyphs" stroke="#1a1a1a" stroke-width="0.1">dp</text>
<text x="447.8" y="113.1" font-size="5.6" font-family='"Liberation Serif", serif' text-anchor="start" fill="#1a1a1a" font-style="italic" stroke="#1a1a1a" stroke-width="0.1">l</text>
<text x="451.9" y="112.1" font-size="6.6" font-family='"Liberation Serif", serif' text-anchor="middle" fill="#1a1a1a" textLength="3.2" lengthAdjust="spacingAndGlyphs" stroke="#1a1a1a" stroke-width="0.1">+</text>
<path d="M447.8,117.4H451.4M449.6,117.4V114.4" stroke="#1a1a1a" stroke-width="0.6" fill="none"/>
<text x="438.6" y="125.8" font-size="10.2" font-family='"Liberation Serif", serif' text-anchor="start" fill="#1a1a1a" textLength="6.1" lengthAdjust="spacingAndGlyphs" stroke="#1a1a1a" stroke-width="0.18">R</text>
<text x="444.9" y="127" font-size="11.2" font-family='"Liberation Serif", serif' text-anchor="start" fill="#1a1a1a" textLength="7.4" lengthAdjust="spacingAndGlyphs" stroke="#1a1a1a" stroke-width="0.18">=</text>
<text x="452.9" y="125.8" font-size="8.4" font-family='"Liberation Mono", monospace' text-anchor="start" fill="#1a1a1a" textLength="25.6" lengthAdjust="spacingAndGlyphs" stroke="#1a1a1a" stroke-width="0.2">code/</text>
<text x="478.9" y="125.8" font-size="9.2" font-family='"Liberation Mono", monospace' text-anchor="start" fill="#1a1a1a" textLength="42.6" lengthAdjust="spacingAndGlyphs" stroke="#1a1a1a" stroke-width="0.2">NNLO-QCD</text>
<path d="M506.1,184.2h4.1" stroke="#1a1a1a" stroke-width="0.55"/>
<text x="508.15" y="183.3" font-size="6.8" font-family='"Liberation Serif", serif' text-anchor="middle" fill="#1a1a1a" stroke="#1a1a1a" stroke-width="0.1">1</text>
<text x="508.15" y="190.1" font-size="6.8" font-family='"Liberation Serif", serif' text-anchor="middle" fill="#1a1a1a" stroke="#1a1a1a" stroke-width="0.1">2</text>
<text x="514.8" y="187.8" font-size="11.6" font-family='"Liberation Serif", serif' text-anchor="start" fill="#1a1a1a" textLength="6.2" lengthAdjust="spacingAndGlyphs" stroke="#1a1a1a" stroke-width="0.18">≤</text>
<path d="M525.5,184.5h21.5" stroke="#1a1a1a" stroke-width="0.65"/>
<text x="536.3" y="182.4" font-size="7.4" font-family='"Liberation Serif", serif' text-anchor="middle" fill="#1a1a1a" font-style="italic" stroke="#1a1a1a" stroke-width="0.1">Q</text>
<text x="536.5" y="190.8" font-size="7.6" font-family='"Liberation Serif", serif' text-anchor="middle" fill="#1a1a1a" font-style="italic" textLength="19" lengthAdjust="spacingAndGlyphs" >XXX</text>
<text x="551" y="187.8" font-size="11.6" font-family='"Liberation Serif", serif' text-anchor="start" fill="#1a1a1a" textLength="6.4" lengthAdjust="spacingAndGlyphs" stroke="#1a1a1a" stroke-width="0.18">≤</text>
<text x="561.3" y="187.4" font-size="10.4" font-family='"Liberation Serif", serif' text-anchor="start" fill="#1a1a1a" textLength="5.1" lengthAdjust="spacingAndGlyphs" stroke="#1a1a1a" stroke-width="0.18">2</text>
<text x="437.8" y="201.5" font-size="10.4" font-family='"Liberation Serif", serif' text-anchor="start" fill="#1a1a1a" font-style="italic" textLength="4.4" lengthAdjust="spacingAndGlyphs" stroke="#1a1a1a" stroke-width="0.18">μ</text>
<text x="444.3" y="202.7" font-size="7" font-family='"Liberation Serif", serif' text-anchor="start" fill="#1a1a1a" font-style="italic" textLength="5" lengthAdjust="spacingAndGlyphs" stroke="#1a1a1a" stroke-width="0.1">R</text>
<text x="452.9" y="202" font-size="11.4" font-family='"Liberation Serif", serif' text-anchor="start" fill="#1a1a1a" textLength="7.4" lengthAdjust="spacingAndGlyphs" stroke="#1a1a1a" stroke-width="0.18">=</text>
<text x="464.1" y="201.5" font-size="10.4" font-family='"Liberation Serif", serif' text-anchor="start" fill="#1a1a1a" font-style="italic" textLength="4.4" lengthAdjust="spacingAndGlyphs" stroke="#1a1a1a" stroke-width="0.18">μ</text>
<text x="470.5" y="202.7" font-size="7" font-family='"Liberation Serif", serif' text-anchor="start" fill="#1a1a1a" font-style="italic" textLength="5" lengthAdjust="spacingAndGlyphs" stroke="#1a1a1a" stroke-width="0.1">F</text>
<text x="479.2" y="202" font-size="11.4" font-family='"Liberation Serif", serif' text-anchor="start" fill="#1a1a1a" textLength="7.4" lengthAdjust="spacingAndGlyphs" stroke="#1a1a1a" stroke-width="0.18">=</text>
<text x="490.4" y="201.5" font-size="10.4" font-family='"Liberation Serif", serif' text-anchor="start" fill="#1a1a1a" font-style="italic" textLength="4.4" lengthAdjust="spacingAndGlyphs" stroke="#1a1a1a" stroke-width="0.18">μ</text>
<text x="496.6" y="201.5" font-size="10.4" font-family='"Liberation Serif", serif' text-anchor="start" fill="#1a1a1a" stroke="#1a1a1a" stroke-width="0.18">,</text>
<path d="M511.2,198.2h4.1" stroke="#1a1a1a" stroke-width="0.55"/>
<text x="513.25" y="197.3" font-size="6.8" font-family='"Liberation Serif", serif' text-anchor="middle" fill="#1a1a1a" stroke="#1a1a1a" stroke-width="0.1">1</text>
<text x="513.25" y="204.1" font-size="6.8" font-family='"Liberation Serif", serif' text-anchor="middle" fill="#1a1a1a" stroke="#1a1a1a" stroke-width="0.1">2</text>
<text x="519.9" y="201.8" font-size="11.6" font-family='"Liberation Serif", serif' text-anchor="start" fill="#1a1a1a" textLength="6.6" lengthAdjust="spacingAndGlyphs" stroke="#1a1a1a" stroke-width="0.18">≤</text>
<path d="M531.2,198.4h12.9" stroke="#1a1a1a" stroke-width="0.65"/>
<text x="537.7" y="196.9" font-size="6.8" font-family='"Liberation Serif", serif' text-anchor="middle" fill="#1a1a1a" font-style="italic" stroke="#1a1a1a" stroke-width="0.1">μ</text>
<text x="532.7" y="204.8" font-size="6.8" font-family='"Liberation Serif", serif' text-anchor="start" fill="#1a1a1a" font-style="italic" textLength="6.2" lengthAdjust="spacingAndGlyphs" stroke="#1a1a1a" stroke-width="0.1">M</text>
<text x="539.1" y="205.8" font-size="4.8" font-family='"Liberation Serif", serif' text-anchor="start" fill="#1a1a1a" font-style="italic" textLength="3.4" lengthAdjust="spacingAndGlyphs" stroke="#1a1a1a" stroke-width="0.1">ll</text>
<text x="548.5" y="201.8" font-size="11.6" font-family='"Liberation Serif", serif' text-anchor="start" fill="#1a1a1a" textLength="6.6" lengthAdjust="spacingAndGlyphs" stroke="#1a1a1a" stroke-width="0.18">≤</text>
<text x="558.8" y="201.6" font-size="10.4" font-family='"Liberation Serif", serif' text-anchor="start" fill="#1a1a1a" textLength="5.1" lengthAdjust="spacingAndGlyphs" stroke="#1a1a1a" stroke-width="0.18">2</text>
<text x="509.6" y="240.7" font-size="10.6" font-family='"Liberation Serif", serif' text-anchor="start" fill="#1a1a1a" font-style="italic" textLength="6.3" lengthAdjust="spacingAndGlyphs" stroke="#1a1a1a" stroke-width="0.18">p</text>
<text x="516.2" y="237.9" font-size="8" font-family='"Liberation Serif", serif' text-anchor="start" fill="#1a1a1a" font-style="italic" textLength="2.4" lengthAdjust="spacingAndGlyphs" stroke="#1a1a1a" stroke-width="0.1">l</text>
<text x="519.8" y="235" font-size="7.6" font-family='"Liberation Serif", serif' text-anchor="start" fill="#1a1a1a" textLength="4.6" lengthAdjust="spacingAndGlyphs" stroke="#1a1a1a" stroke-width="0.1">+</text>
<path d="M516.6,245.2H522.6M519.6,245.2V239.6" stroke="#1a1a1a" stroke-width="0.75" fill="none"/>
<text x="531.3" y="241.3" font-size="10.4" font-family='"Liberation Serif", serif' text-anchor="start" fill="#1a1a1a" textLength="30.6" lengthAdjust="spacingAndGlyphs" stroke="#1a1a1a" stroke-width="0.18">(GeV)</text>
<clipPath id="c2"><rect x="46.9" y="251.9" width="278.6" height="202.4"/></clipPath>
<path d="M46.9,454.3h2.8M325.5,454.3h-2.8" stroke="#333" stroke-width="1" fill="none"/>
<text x="40.6" y="456.9" font-size="10.4" font-family='"Liberation Serif", serif' text-anchor="end" fill="#1a1a1a" stroke="#1a1a1a" stroke-width="0.18">0.8</text>
<path d="M46.9,429h2.8M325.5,429h-2.8" stroke="#333" stroke-width="1" fill="none"/>
<text x="40.6" y="431.6" font-size="10.4" font-family='"Liberation Serif", serif' text-anchor="end" fill="#1a1a1a" stroke="#1a1a1a" stroke-width="0.18">0.85</text>
<path d="M46.9,403.7h2.8M325.5,403.7h-2.8" stroke="#333" stroke-width="1" fill="none"/>
<text x="40.6" y="406.3" font-size="10.4" font-family='"Liberation Serif", serif' text-anchor="end" fill="#1a1a1a" stroke="#1a1a1a" stroke-width="0.18">0.9</text>
<path d="M46.9,378.4h2.8M325.5,378.4h-2.8" stroke="#333" stroke-width="1" fill="none"/>
<text x="40.6" y="381" font-size="10.4" font-family='"Liberation Serif", serif' text-anchor="end" fill="#1a1a1a" stroke="#1a1a1a" stroke-width="0.18">0.95</text>
<path d="M46.9,353.1h2.8M325.5,353.1h-2.8" stroke="#333" stroke-width="1" fill="none"/>
<text x="40.6" y="355.7" font-size="10.4" font-family='"Liberation Serif", serif' text-anchor="end" fill="#1a1a1a" stroke="#1a1a1a" stroke-width="0.18">1</text>
<path d="M46.9,327.8h2.8M325.5,327.8h-2.8" stroke="#333" stroke-width="1" fill="none"/>
<text x="40.6" y="330.4" font-size="10.4" font-family='"Liberation Serif", serif' text-anchor="end" fill="#1a1a1a" stroke="#1a1a1a" stroke-width="0.18">1.05</text>
<path d="M46.9,302.5h2.8M325.5,302.5h-2.8" stroke="#333" stroke-width="1" fill="none"/>
<text x="40.6" y="305.1" font-size="10.4" font-family='"Liberation Serif", serif' text-anchor="end" fill="#1a1a1a" stroke="#1a1a1a" stroke-width="0.18">1.1</text>
<path d="M46.9,277.2h2.8M325.5,277.2h-2.8" stroke="#333" stroke-width="1" fill="none"/>
<text x="40.6" y="279.8" font-size="10.4" font-family='"Liberation Serif", serif' text-anchor="end" fill="#1a1a1a" stroke="#1a1a1a" stroke-width="0.18">1.15</text>
<path d="M46.9,251.9h2.8M325.5,251.9h-2.8" stroke="#333" stroke-width="1" fill="none"/>
<text x="40.6" y="254.5" font-size="10.4" font-family='"Liberation Serif", serif' text-anchor="end" fill="#1a1a1a" stroke="#1a1a1a" stroke-width="0.18">1.2</text>
<path d="M46.9,454.3v-2.8M46.9,251.9v2.8" stroke="#333" stroke-width="1" fill="none"/>
<text x="48.9" y="468.1" font-size="10.4" font-family='"Liberation Serif", serif' text-anchor="middle" fill="#1a1a1a" stroke="#1a1a1a" stroke-width="0.18">60</text>
<path d="M93.33,454.3v-2.8M93.33,251.9v2.8" stroke="#333" stroke-width="1" fill="none"/>
<text x="95.33" y="468.1" font-size="10.4" font-family='"Liberation Serif", serif' text-anchor="middle" fill="#1a1a1a" stroke="#1a1a1a" stroke-width="0.18">70</text>
<path d="M139.77,454.3v-2.8M139.77,251.9v2.8" stroke="#333" stroke-width="1" fill="none"/>
<text x="141.77" y="468.1" font-size="10.4" font-family='"Liberation Serif", serif' text-anchor="middle" fill="#1a1a1a" stroke="#1a1a1a" stroke-width="0.18">80</text>
<path d="M186.2,454.3v-2.8M186.2,251.9v2.8" stroke="#333" stroke-width="1" fill="none"/>
<text x="188.2" y="468.1" font-size="10.4" font-family='"Liberation Serif", serif' text-anchor="middle" fill="#1a1a1a" stroke="#1a1a1a" stroke-width="0.18">90</text>
<path d="M232.63,454.3v-2.8M232.63,251.9v2.8" stroke="#333" stroke-width="1" fill="none"/>
<text x="234.63" y="468.1" font-size="10.4" font-family='"Liberation Serif", serif' text-anchor="middle" fill="#1a1a1a" stroke="#1a1a1a" stroke-width="0.18">100</text>
<path d="M279.07,454.3v-2.8M279.07,251.9v2.8" stroke="#333" stroke-width="1" fill="none"/>
<text x="281.07" y="468.1" font-size="10.4" font-family='"Liberation Serif", serif' text-anchor="middle" fill="#1a1a1a" stroke="#1a1a1a" stroke-width="0.18">110</text>
<path d="M325.5,454.3v-2.8M325.5,251.9v2.8" stroke="#333" stroke-width="1" fill="none"/>
<text x="327.5" y="468.1" font-size="10.4" font-family='"Liberation Serif", serif' text-anchor="middle" fill="#1a1a1a" stroke="#1a1a1a" stroke-width="0.18">120</text>
<g clip-path="url(#c2)" fill="none">
<path d="M49.24,345.1V361.1" stroke="#5e5e5e" stroke-width="0.9" stroke-dasharray="1.2,0.6"/>
<path d="M47.44,345.1h3.6M47.44,361.1h3.6" stroke="#5e5e5e" stroke-width="0.9"/>
<path d="M48.04,353.1h2.4" stroke="#555" stroke-width="1.2"/>
<path d="M58.52,345.4V360.8" stroke="#5e5e5e" stroke-width="0.9" stroke-dasharray="1.2,0.6"/>
<path d="M56.72,345.4h3.6M56.72,360.8h3.6" stroke="#5e5e5e" stroke-width="0.9"/>
<path d="M57.32,353.1h2.4" stroke="#555" stroke-width="1.2"/>
<path d="M67.8,346.1V360.1" stroke="#5e5e5e" stroke-width="0.9" stroke-dasharray="1.2,0.6"/>
<path d="M66,346.1h3.6M66,360.1h3.6" stroke="#5e5e5e" stroke-width="0.9"/>
<path d="M66.6,353.1h2.4" stroke="#555" stroke-width="1.2"/>
<path d="M77.08,346.6V359.6" stroke="#5e5e5e" stroke-width="0.9" stroke-dasharray="1.2,0.6"/>
<path d="M75.28,346.6h3.6M75.28,359.6h3.6" stroke="#5e5e5e" stroke-width="0.9"/>
<path d="M75.88,353.1h2.4" stroke="#555" stroke-width="1.2"/>
<path d="M86.36,346.6V359.6" stroke="#5e5e5e" stroke-width="0.9" stroke-dasharray="1.2,0.6"/>
<path d="M84.56,346.6h3.6M84.56,359.6h3.6" stroke="#5e5e5e" stroke-width="0.9"/>
<path d="M85.16,353.1h2.4" stroke="#555" stroke-width="1.2"/>
<path d="M95.64,346.6V359.6" stroke="#5e5e5e" stroke-width="0.9" stroke-dasharray="1.2,0.6"/>
<path d="M93.84,346.6h3.6M93.84,359.6h3.6" stroke="#5e5e5e" stroke-width="0.9"/>
<path d="M94.44,353.1h2.4" stroke="#555" stroke-width="1.2"/>
<path d="M104.92,347.1V359.1" stroke="#5e5e5e" stroke-width="0.9" stroke-dasharray="1.2,0.6"/>
<path d="M103.12,347.1h3.6M103.12,359.1h3.6" stroke="#5e5e5e" stroke-width="0.9"/>
<path d="M103.72,353.1h2.4" stroke="#555" stroke-width="1.2"/>
<path d="M114.2,348.4V357.8" stroke="#5e5e5e" stroke-width="0.9" stroke-dasharray="1.2,0.6"/>
<path d="M112.4,348.4h3.6M112.4,357.8h3.6" stroke="#5e5e5e" stroke-width="0.9"/>
<path d="M113,353.1h2.4" stroke="#555" stroke-width="1.2"/>
<path d="M123.48,348.7V357.5" stroke="#5e5e5e" stroke-width="0.9" stroke-dasharray="1.2,0.6"/>
<path d="M121.68,348.7h3.6M121.68,357.5h3.6" stroke="#5e5e5e" stroke-width="0.9"/>
<path d="M122.28,353.1h2.4" stroke="#555" stroke-width="1.2"/>
<path d="M132.76,350.1V356.1" stroke="#5e5e5e" stroke-width="0.9" stroke-dasharray="1.2,0.6"/>
<path d="M130.96,350.1h3.6M130.96,356.1h3.6" stroke="#5e5e5e" stroke-width="0.9"/>
<path d="M131.56,353.1h2.4" stroke="#555" stroke-width="1.2"/>
<path d="M142.04,350.1V356.1" stroke="#5e5e5e" stroke-width="0.9" stroke-dasharray="1.2,0.6"/>
<path d="M140.24,350.1h3.6M140.24,356.1h3.6" stroke="#5e5e5e" stroke-width="0.9"/>
<path d="M140.84,353.1h2.4" stroke="#555" stroke-width="1.2"/>
<path d="M151.32,350.1V356.1" stroke="#5e5e5e" stroke-width="0.9" stroke-dasharray="1.2,0.6"/>
<path d="M149.52,350.1h3.6M149.52,356.1h3.6" stroke="#5e5e5e" stroke-width="0.9"/>
<path d="M150.12,353.1h2.4" stroke="#555" stroke-width="1.2"/>
<path d="M160.6,350.1V356.1" stroke="#5e5e5e" stroke-width="0.9" stroke-dasharray="1.2,0.6"/>
<path d="M158.8,350.1h3.6M158.8,356.1h3.6" stroke="#5e5e5e" stroke-width="0.9"/>
<path d="M159.4,353.1h2.4" stroke="#555" stroke-width="1.2"/>
<path d="M169.88,350.6V355.6" stroke="#5e5e5e" stroke-width="0.9" stroke-dasharray="1.2,0.6"/>
<path d="M168.08,350.6h3.6M168.08,355.6h3.6" stroke="#5e5e5e" stroke-width="0.9"/>
<path d="M168.68,353.1h2.4" stroke="#555" stroke-width="1.2"/>
<path d="M179.16,351.6V354.6" stroke="#5e5e5e" stroke-width="0.9" stroke-dasharray="1.2,0.6"/>
<path d="M177.36,351.6h3.6M177.36,354.6h3.6" stroke="#5e5e5e" stroke-width="0.9"/>
<path d="M177.96,353.1h2.4" stroke="#555" stroke-width="1.2"/>
<path d="M188.44,351.6V354.6" stroke="#5e5e5e" stroke-width="0.9" stroke-dasharray="1.2,0.6"/>
<path d="M186.64,351.6h3.6M186.64,354.6h3.6" stroke="#5e5e5e" stroke-width="0.9"/>
<path d="M187.24,353.1h2.4" stroke="#555" stroke-width="1.2"/>
<path d="M197.72,351.6V354.6" stroke="#5e5e5e" stroke-width="0.9" stroke-dasharray="1.2,0.6"/>
<path d="M195.92,351.6h3.6M195.92,354.6h3.6" stroke="#5e5e5e" stroke-width="0.9"/>
<path d="M196.52,353.1h2.4" stroke="#555" stroke-width="1.2"/>
<path d="M207,350.6V355.6" stroke="#5e5e5e" stroke-width="0.9" stroke-dasharray="1.2,0.6"/>
<path d="M205.2,350.6h3.6M205.2,355.6h3.6" stroke="#5e5e5e" stroke-width="0.9"/>
<path d="M205.8,353.1h2.4" stroke="#555" stroke-width="1.2"/>
<path d="M216.28,350.1V356.1" stroke="#5e5e5e" stroke-width="0.9" stroke-dasharray="1.2,0.6"/>
<path d="M214.48,350.1h3.6M214.48,356.1h3.6" stroke="#5e5e5e" stroke-width="0.9"/>
<path d="M215.08,353.1h2.4" stroke="#555" stroke-width="1.2"/>
<path d="M225.56,349.6V356.6" stroke="#5e5e5e" stroke-width="0.9" stroke-dasharray="1.2,0.6"/>
<path d="M223.76,349.6h3.6M223.76,356.6h3.6" stroke="#5e5e5e" stroke-width="0.9"/>
<path d="M224.36,353.1h2.4" stroke="#555" stroke-width="1.2"/>
<path d="M234.84,348.7V357.5" stroke="#5e5e5e" stroke-width="0.9" stroke-dasharray="1.2,0.6"/>
<path d="M233.04,348.7h3.6M233.04,357.5h3.6" stroke="#5e5e5e" stroke-width="0.9"/>
<path d="M233.64,353.1h2.4" stroke="#555" stroke-width="1.2"/>
<path d="M244.12,349.1V357.1" stroke="#5e5e5e" stroke-width="0.9" stroke-dasharray="1.2,0.6"/>
<path d="M242.32,349.1h3.6M242.32,357.1h3.6" stroke="#5e5e5e" stroke-width="0.9"/>
<path d="M242.92,353.1h2.4" stroke="#555" stroke-width="1.2"/>
<path d="M253.4,348.1V358.1" stroke="#5e5e5e" stroke-width="0.9" stroke-dasharray="1.2,0.6"/>
<path d="M251.6,348.1h3.6M251.6,358.1h3.6" stroke="#5e5e5e" stroke-width="0.9"/>
<path d="M252.2,353.1h2.4" stroke="#555" stroke-width="1.2"/>
<path d="M262.68,347.3V358.9" stroke="#5e5e5e" stroke-width="0.9" stroke-dasharray="1.2,0.6"/>
<path d="M260.88,347.3h3.6M260.88,358.9h3.6" stroke="#5e5e5e" stroke-width="0.9"/>
<path d="M261.48,353.1h2.4" stroke="#555" stroke-width="1.2"/>
<path d="M271.96,346.9V359.3" stroke="#5e5e5e" stroke-width="0.9" stroke-dasharray="1.2,0.6"/>
<path d="M270.16,346.9h3.6M270.16,359.3h3.6" stroke="#5e5e5e" stroke-width="0.9"/>
<path d="M270.76,353.1h2.4" stroke="#555" stroke-width="1.2"/>
<path d="M281.24,346.5V359.7" stroke="#5e5e5e" stroke-width="0.9" stroke-dasharray="1.2,0.6"/>
<path d="M279.44,346.5h3.6M279.44,359.7h3.6" stroke="#5e5e5e" stroke-width="0.9"/>
<path d="M280.04,353.1h2.4" stroke="#555" stroke-width="1.2"/>
<path d="M290.52,345.4V360.8" stroke="#5e5e5e" stroke-width="0.9" stroke-dasharray="1.2,0.6"/>
<path d="M288.72,345.4h3.6M288.72,360.8h3.6" stroke="#5e5e5e" stroke-width="0.9"/>
<path d="M289.32,353.1h2.4" stroke="#555" stroke-width="1.2"/>
<path d="M299.8,345.4V360.8" stroke="#5e5e5e" stroke-width="0.9" stroke-dasharray="1.2,0.6"/>
<path d="M298,345.4h3.6M298,360.8h3.6" stroke="#5e5e5e" stroke-width="0.9"/>
<path d="M298.6,353.1h2.4" stroke="#555" stroke-width="1.2"/>
<path d="M309.08,345.1V361.1" stroke="#5e5e5e" stroke-width="0.9" stroke-dasharray="1.2,0.6"/>
<path d="M307.28,345.1h3.6M307.28,361.1h3.6" stroke="#5e5e5e" stroke-width="0.9"/>
<path d="M307.88,353.1h2.4" stroke="#555" stroke-width="1.2"/>
<path d="M318.36,344.3V361.9" stroke="#5e5e5e" stroke-width="0.9" stroke-dasharray="1.2,0.6"/>
<path d="M316.56,344.3h3.6M316.56,361.9h3.6" stroke="#5e5e5e" stroke-width="0.9"/>
<path d="M317.16,353.1h2.4" stroke="#555" stroke-width="1.2"/>
<path d="M44.6,304.02H53.88V340.45H63.16V345.51H72.44V335.39H81.72V336.4H91V334.88H100.28V357.15H109.56V333.37H118.84V322.74H128.12V336.4H137.4V341.46H146.68V336.91H155.96V345H165.24V345.51H174.52V346.52H183.8V345.51H193.08V345.51H202.36V346.52H211.64V348.04H220.92V341.46H230.2V345H239.48V344.5H248.76V321.22H258.04V332.35H267.32V345H276.6V342.47H285.88V344.5H295.16V335.39H304.44V355.63H313.72V326.28H323V333.87H332.28" stroke="#ff00ff" stroke-width="1.2" stroke-linejoin="miter"/>
<path d="M44.6,347.53H53.88V362.21H63.16V383.46H72.44V367.27H81.72V367.27H91V370.3H100.28V375.36H109.56V351.08H118.84V348.04H128.12V356.64H137.4V366.76H146.68V351.58H155.96V356.64H165.24V355.63H174.52V353.61H183.8V351.58H193.08V351.58H202.36V354.11H211.64V359.17H220.92V354.11H230.2V363.73H239.48V362.71H248.76V348.55H258.04V353.61H267.32V373.34H276.6V355.12H285.88V362.71H295.16V361.2H304.44V376.88H313.72V349.56H323V355.63H332.28" stroke="#ff00ff" stroke-width="1.2" stroke-linejoin="miter"/>
<path d="M44.6,329.32H53.88V307.56H63.16V368.79H72.44V348.04H81.72V331.85H91V333.87H100.28V343.49H109.56V329.82H118.84V375.36H128.12V360.18H137.4V344.5H146.68V348.04H155.96V340.45H165.24V349.56H174.52V346.52H183.8V348.04H193.08V351.58H202.36V345H211.64V357.15H220.92V359.17H230.2V348.55H239.48V336.91H248.76V350.06H258.04V338.43H267.32V344.5H276.6V372.83H285.88V336.91H295.16V392.06H304.44V310.09H313.72V291.87H323V371.82H332.28" stroke="#0000ff" stroke-width="1.4" stroke-dasharray="2,1" stroke-linejoin="miter"/>
</g>
<rect x="46.9" y="251.9" width="278.6" height="202.4" fill="none" stroke="#2e2e2e" stroke-width="1.3"/>
<text x="0" y="0" font-size="11.8" font-family='"Liberation Serif", serif' font-style="italic" text-anchor="middle" textLength="8.8" lengthAdjust="spacingAndGlyphs" fill="#1a1a1a" transform="translate(10.1,351.9) rotate(-90)">R</text>
<text x="227.5" y="263.2" font-size="9.2" font-family='"Liberation Mono", monospace' text-anchor="start" fill="#1a1a1a" textLength="20.4" lengthAdjust="spacingAndGlyphs" stroke="#1a1a1a" stroke-width="0.2">NNLO</text>
<text x="254.1" y="263.8" font-size="11" font-family='"Liberation Serif", serif' text-anchor="middle" fill="#1a1a1a" textLength="7" lengthAdjust="spacingAndGlyphs" stroke="#1a1a1a" stroke-width="0.1">−</text>
<text x="260.9" y="263.2" font-size="9.2" font-family='"Liberation Mono", monospace' text-anchor="start" fill="#1a1a1a" textLength="15.3" lengthAdjust="spacingAndGlyphs" stroke="#1a1a1a" stroke-width="0.2">QCD</text>
<path d="M283,259.8H312.6" stroke="#4a4a4a" stroke-width="0.95" stroke-dasharray="1.4,0.5" fill="none"/>
<path d="M283,258.1v3.4M312.6,258.1v3.4" stroke="#4a4a4a" stroke-width="0.95" fill="none"/>
<path d="M296.6,260.4l1.2,-1.6l1.2,1.6z" fill="#666"/>
<text x="234.5" y="274.2" font-size="9.2" font-family='"Liberation Mono", monospace' text-anchor="start" fill="#1a1a1a" textLength="41.7" lengthAdjust="spacingAndGlyphs" stroke="#1a1a1a" stroke-width="0.2">DYNNLOPS</text>
<path d="M283,270.8H312.6" stroke="#ff00ff" stroke-width="1.3" fill="none"/>
<text x="198" y="285.5" font-size="9.2" font-family='"Liberation Mono", monospace' text-anchor="start" fill="#1a1a1a" textLength="30.9" lengthAdjust="spacingAndGlyphs" stroke="#1a1a1a" stroke-width="0.2">SHERPA</text>
<text x="232.8" y="285.5" font-size="9.2" font-family='"Liberation Mono", monospace' text-anchor="start" fill="#1a1a1a" textLength="20.2" lengthAdjust="spacingAndGlyphs" stroke="#1a1a1a" stroke-width="0.2">NNLO</text>
<text x="259.2" y="287.4" font-size="12.6" font-family='"Liberation Serif", serif' text-anchor="middle" fill="#1a1a1a" textLength="6.4" lengthAdjust="spacingAndGlyphs" >+</text>
<text x="265.2" y="285.5" font-size="9.2" font-family='"Liberation Mono", monospace' text-anchor="start" fill="#1a1a1a" textLength="11" lengthAdjust="spacingAndGlyphs" stroke="#1a1a1a" stroke-width="0.2">PS</text>
<path d="M283,282.1H312.6" stroke="#0000ff" stroke-width="1.3" stroke-dasharray="2,1" fill="none"/>
<text x="93.7" y="264.9" font-size="10.2" font-family='"Liberation Serif", serif' text-anchor="start" fill="#1a1a1a" textLength="50" lengthAdjust="spacingAndGlyphs" stroke="#1a1a1a" stroke-width="0.18">LHC 8 TeV</text>
<text x="93.7" y="285" font-size="10.2" font-family='"Liberation Serif", serif' text-anchor="start" fill="#1a1a1a" textLength="45.6" lengthAdjust="spacingAndGlyphs" stroke="#1a1a1a" stroke-width="0.18">muon bare</text>
<path d="M94.4,301.3H122.9" stroke="#1a1a1a" stroke-width="0.9"/>
<text x="108.15" y="299.3" font-size="6.8" font-family='"Liberation Serif", serif' text-anchor="middle" fill="#1a1a1a" font-style="italic" textLength="8.3" lengthAdjust="spacingAndGlyphs" stroke="#1a1a1a" stroke-width="0.1">dσ</text>
<text x="94.7" y="308" font-size="6.8" font-family='"Liberation Serif", serif' text-anchor="start" fill="#1a1a1a" font-style="italic" textLength="12" lengthAdjust="spacingAndGlyphs" stroke="#1a1a1a" stroke-width="0.1">dM</text>
<text x="107" y="309.6" font-size="5.2" font-family='"Liberation Serif", serif' text-anchor="start" fill="#1a1a1a" font-style="italic" textLength="14.6" lengthAdjust="spacingAndGlyphs" stroke="#1a1a1a" stroke-width="0.1">l+l−</text>
<text x="94.3" y="431.5" font-size="10.2" font-family='"Liberation Serif", serif' text-anchor="start" fill="#1a1a1a" textLength="6.1" lengthAdjust="spacingAndGlyphs" stroke="#1a1a1a" stroke-width="0.18">R</text>
<text x="100.6" y="432.7" font-size="11.2" font-family='"Liberation Serif", serif' text-anchor="start" fill="#1a1a1a" textLength="7.4" lengthAdjust="spacingAndGlyphs" stroke="#1a1a1a" stroke-width="0.18">=</text>
<text x="108.6" y="431.5" font-size="8.4" font-family='"Liberation Mono", monospace' text-anchor="start" fill="#1a1a1a" textLength="25.6" lengthAdjust="spacingAndGlyphs" stroke="#1a1a1a" stroke-width="0.2">code/</text>
<text x="134.6" y="431.5" font-size="9.2" font-family='"Liberation Mono", monospace' text-anchor="start" fill="#1a1a1a" textLength="42.6" lengthAdjust="spacingAndGlyphs" stroke="#1a1a1a" stroke-width="0.2">NNLO-QCD</text>
<text x="155.3" y="483.5" font-size="10.6" font-family='"Liberation Serif", serif' text-anchor="start" fill="#1a1a1a" font-style="italic" textLength="11" lengthAdjust="spacingAndGlyphs" stroke="#1a1a1a" stroke-width="0.18">M</text>
<text x="166.1" y="485.8" font-size="7.6" font-family='"Liberation Serif", serif' text-anchor="start" fill="#1a1a1a" font-style="italic" textLength="17.2" lengthAdjust="spacingAndGlyphs" stroke="#1a1a1a" stroke-width="0.1">l+l−</text>
<text x="191.4" y="483.5" font-size="10.4" font-family='"Liberation Serif", serif' text-anchor="start" fill="#1a1a1a" textLength="31.1" lengthAdjust="spacingAndGlyphs" stroke="#1a1a1a" stroke-width="0.18">(GeV)</text>
<clipPath id="c3"><rect x="396.6" y="251.9" width="278.2" height="202.4"/></clipPath>
<path d="M396.6,454.3h2.8M674.8,454.3h-2.8" stroke="#333" stroke-width="1" fill="none"/>
<text x="390.3" y="456.9" font-size="10.4" font-family='"Liberation Serif", serif' text-anchor="end" fill="#1a1a1a" stroke="#1a1a1a" stroke-width="0.18">0.8</text>
<path d="M396.6,429h2.8M674.8,429h-2.8" stroke="#333" stroke-width="1" fill="none"/>
<text x="390.3" y="431.6" font-size="10.4" font-family='"Liberation Serif", serif' text-anchor="end" fill="#1a1a1a" stroke="#1a1a1a" stroke-width="0.18">0.85</text>
<path d="M396.6,403.7h2.8M674.8,403.7h-2.8" stroke="#333" stroke-width="1" fill="none"/>
<text x="390.3" y="406.3" font-size="10.4" font-family='"Liberation Serif", serif' text-anchor="end" fill="#1a1a1a" stroke="#1a1a1a" stroke-width="0.18">0.9</text>
<path d="M396.6,378.4h2.8M674.8,378.4h-2.8" stroke="#333" stroke-width="1" fill="none"/>
<text x="390.3" y="381" font-size="10.4" font-family='"Liberation Serif", serif' text-anchor="end" fill="#1a1a1a" stroke="#1a1a1a" stroke-width="0.18">0.95</text>
<path d="M396.6,353.1h2.8M674.8,353.1h-2.8" stroke="#333" stroke-width="1" fill="none"/>
<text x="390.3" y="355.7" font-size="10.4" font-family='"Liberation Serif", serif' text-anchor="end" fill="#1a1a1a" stroke="#1a1a1a" stroke-width="0.18">1</text>
<path d="M396.6,327.8h2.8M674.8,327.8h-2.8" stroke="#333" stroke-width="1" fill="none"/>
<text x="390.3" y="330.4" font-size="10.4" font-family='"Liberation Serif", serif' text-anchor="end" fill="#1a1a1a" stroke="#1a1a1a" stroke-width="0.18">1.05</text>
<path d="M396.6,302.5h2.8M674.8,302.5h-2.8" stroke="#333" stroke-width="1" fill="none"/>
<text x="390.3" y="305.1" font-size="10.4" font-family='"Liberation Serif", serif' text-anchor="end" fill="#1a1a1a" stroke="#1a1a1a" stroke-width="0.18">1.1</text>
<path d="M396.6,277.2h2.8M674.8,277.2h-2.8" stroke="#333" stroke-width="1" fill="none"/>
<text x="390.3" y="279.8" font-size="10.4" font-family='"Liberation Serif", serif' text-anchor="end" fill="#1a1a1a" stroke="#1a1a1a" stroke-width="0.18">1.15</text>
<path d="M396.6,251.9h2.8M674.8,251.9h-2.8" stroke="#333" stroke-width="1" fill="none"/>
<text x="390.3" y="254.5" font-size="10.4" font-family='"Liberation Serif", serif' text-anchor="end" fill="#1a1a1a" stroke="#1a1a1a" stroke-width="0.18">1.2</text>
<path d="M396.6,454.3v-2.8M396.6,251.9v2.8" stroke="#333" stroke-width="1" fill="none"/>
<text x="398.6" y="468.1" font-size="10.4" font-family='"Liberation Serif", serif' text-anchor="middle" fill="#1a1a1a" stroke="#1a1a1a" stroke-width="0.18">60</text>
<path d="M442.97,454.3v-2.8M442.97,251.9v2.8" stroke="#333" stroke-width="1" fill="none"/>
<text x="444.97" y="468.1" font-size="10.4" font-family='"Liberation Serif", serif' text-anchor="middle" fill="#1a1a1a" stroke="#1a1a1a" stroke-width="0.18">70</text>
<path d="M489.33,454.3v-2.8M489.33,251.9v2.8" stroke="#333" stroke-width="1" fill="none"/>
<text x="491.33" y="468.1" font-size="10.4" font-family='"Liberation Serif", serif' text-anchor="middle" fill="#1a1a1a" stroke="#1a1a1a" stroke-width="0.18">80</text>
<path d="M535.7,454.3v-2.8M535.7,251.9v2.8" stroke="#333" stroke-width="1" fill="none"/>
<text x="537.7" y="468.1" font-size="10.4" font-family='"Liberation Serif", serif' text-anchor="middle" fill="#1a1a1a" stroke="#1a1a1a" stroke-width="0.18">90</text>
<path d="M582.07,454.3v-2.8M582.07,251.9v2.8" stroke="#333" stroke-width="1" fill="none"/>
<text x="584.07" y="468.1" font-size="10.4" font-family='"Liberation Serif", serif' text-anchor="middle" fill="#1a1a1a" stroke="#1a1a1a" stroke-width="0.18">100</text>
<path d="M628.43,454.3v-2.8M628.43,251.9v2.8" stroke="#333" stroke-width="1" fill="none"/>
<text x="630.43" y="468.1" font-size="10.4" font-family='"Liberation Serif", serif' text-anchor="middle" fill="#1a1a1a" stroke="#1a1a1a" stroke-width="0.18">110</text>
<path d="M674.8,454.3v-2.8M674.8,251.9v2.8" stroke="#333" stroke-width="1" fill="none"/>
<text x="676.8" y="468.1" font-size="10.4" font-family='"Liberation Serif", serif' text-anchor="middle" fill="#1a1a1a" stroke="#1a1a1a" stroke-width="0.18">120</text>
<g clip-path="url(#c3)" fill="none">
<path d="M399.04,345.1V361.1" stroke="#5e5e5e" stroke-width="0.9" stroke-dasharray="1.2,0.6"/>
<path d="M397.24,345.1h3.6M397.24,361.1h3.6" stroke="#5e5e5e" stroke-width="0.9"/>
<path d="M397.84,353.1h2.4" stroke="#555" stroke-width="1.2"/>
<path d="M408.31,345.4V360.8" stroke="#5e5e5e" stroke-width="0.9" stroke-dasharray="1.2,0.6"/>
<path d="M406.51,345.4h3.6M406.51,360.8h3.6" stroke="#5e5e5e" stroke-width="0.9"/>
<path d="M407.11,353.1h2.4" stroke="#555" stroke-width="1.2"/>
<path d="M417.59,346.1V360.1" stroke="#5e5e5e" stroke-width="0.9" stroke-dasharray="1.2,0.6"/>
<path d="M415.79,346.1h3.6M415.79,360.1h3.6" stroke="#5e5e5e" stroke-width="0.9"/>
<path d="M416.39,353.1h2.4" stroke="#555" stroke-width="1.2"/>
<path d="M426.87,346.6V359.6" stroke="#5e5e5e" stroke-width="0.9" stroke-dasharray="1.2,0.6"/>
<path d="M425.07,346.6h3.6M425.07,359.6h3.6" stroke="#5e5e5e" stroke-width="0.9"/>
<path d="M425.67,353.1h2.4" stroke="#555" stroke-width="1.2"/>
<path d="M436.14,346.6V359.6" stroke="#5e5e5e" stroke-width="0.9" stroke-dasharray="1.2,0.6"/>
<path d="M434.34,346.6h3.6M434.34,359.6h3.6" stroke="#5e5e5e" stroke-width="0.9"/>
<path d="M434.94,353.1h2.4" stroke="#555" stroke-width="1.2"/>
<path d="M445.42,346.6V359.6" stroke="#5e5e5e" stroke-width="0.9" stroke-dasharray="1.2,0.6"/>
<path d="M443.62,346.6h3.6M443.62,359.6h3.6" stroke="#5e5e5e" stroke-width="0.9"/>
<path d="M444.22,353.1h2.4" stroke="#555" stroke-width="1.2"/>
<path d="M454.69,347.1V359.1" stroke="#5e5e5e" stroke-width="0.9" stroke-dasharray="1.2,0.6"/>
<path d="M452.89,347.1h3.6M452.89,359.1h3.6" stroke="#5e5e5e" stroke-width="0.9"/>
<path d="M453.49,353.1h2.4" stroke="#555" stroke-width="1.2"/>
<path d="M463.97,348.4V357.8" stroke="#5e5e5e" stroke-width="0.9" stroke-dasharray="1.2,0.6"/>
<path d="M462.17,348.4h3.6M462.17,357.8h3.6" stroke="#5e5e5e" stroke-width="0.9"/>
<path d="M462.77,353.1h2.4" stroke="#555" stroke-width="1.2"/>
<path d="M473.25,348.7V357.5" stroke="#5e5e5e" stroke-width="0.9" stroke-dasharray="1.2,0.6"/>
<path d="M471.45,348.7h3.6M471.45,357.5h3.6" stroke="#5e5e5e" stroke-width="0.9"/>
<path d="M472.05,353.1h2.4" stroke="#555" stroke-width="1.2"/>
<path d="M482.52,350.1V356.1" stroke="#5e5e5e" stroke-width="0.9" stroke-dasharray="1.2,0.6"/>
<path d="M480.72,350.1h3.6M480.72,356.1h3.6" stroke="#5e5e5e" stroke-width="0.9"/>
<path d="M481.32,353.1h2.4" stroke="#555" stroke-width="1.2"/>
<path d="M491.8,350.1V356.1" stroke="#5e5e5e" stroke-width="0.9" stroke-dasharray="1.2,0.6"/>
<path d="M490,350.1h3.6M490,356.1h3.6" stroke="#5e5e5e" stroke-width="0.9"/>
<path d="M490.6,353.1h2.4" stroke="#555" stroke-width="1.2"/>
<path d="M501.07,350.1V356.1" stroke="#5e5e5e" stroke-width="0.9" stroke-dasharray="1.2,0.6"/>
<path d="M499.27,350.1h3.6M499.27,356.1h3.6" stroke="#5e5e5e" stroke-width="0.9"/>
<path d="M499.87,353.1h2.4" stroke="#555" stroke-width="1.2"/>
<path d="M510.35,350.1V356.1" stroke="#5e5e5e" stroke-width="0.9" stroke-dasharray="1.2,0.6"/>
<path d="M508.55,350.1h3.6M508.55,356.1h3.6" stroke="#5e5e5e" stroke-width="0.9"/>
<path d="M509.15,353.1h2.4" stroke="#555" stroke-width="1.2"/>
<path d="M519.63,350.6V355.6" stroke="#5e5e5e" stroke-width="0.9" stroke-dasharray="1.2,0.6"/>
<path d="M517.83,350.6h3.6M517.83,355.6h3.6" stroke="#5e5e5e" stroke-width="0.9"/>
<path d="M518.43,353.1h2.4" stroke="#555" stroke-width="1.2"/>
<path d="M528.9,351.6V354.6" stroke="#5e5e5e" stroke-width="0.9" stroke-dasharray="1.2,0.6"/>
<path d="M527.1,351.6h3.6M527.1,354.6h3.6" stroke="#5e5e5e" stroke-width="0.9"/>
<path d="M527.7,353.1h2.4" stroke="#555" stroke-width="1.2"/>
<path d="M538.18,351.6V354.6" stroke="#5e5e5e" stroke-width="0.9" stroke-dasharray="1.2,0.6"/>
<path d="M536.38,351.6h3.6M536.38,354.6h3.6" stroke="#5e5e5e" stroke-width="0.9"/>
<path d="M536.98,353.1h2.4" stroke="#555" stroke-width="1.2"/>
<path d="M547.45,351.6V354.6" stroke="#5e5e5e" stroke-width="0.9" stroke-dasharray="1.2,0.6"/>
<path d="M545.65,351.6h3.6M545.65,354.6h3.6" stroke="#5e5e5e" stroke-width="0.9"/>
<path d="M546.25,353.1h2.4" stroke="#555" stroke-width="1.2"/>
<path d="M556.73,350.6V355.6" stroke="#5e5e5e" stroke-width="0.9" stroke-dasharray="1.2,0.6"/>
<path d="M554.93,350.6h3.6M554.93,355.6h3.6" stroke="#5e5e5e" stroke-width="0.9"/>
<path d="M555.53,353.1h2.4" stroke="#555" stroke-width="1.2"/>
<path d="M566.01,350.1V356.1" stroke="#5e5e5e" stroke-width="0.9" stroke-dasharray="1.2,0.6"/>
<path d="M564.21,350.1h3.6M564.21,356.1h3.6" stroke="#5e5e5e" stroke-width="0.9"/>
<path d="M564.81,353.1h2.4" stroke="#555" stroke-width="1.2"/>
<path d="M575.28,349.6V356.6" stroke="#5e5e5e" stroke-width="0.9" stroke-dasharray="1.2,0.6"/>
<path d="M573.48,349.6h3.6M573.48,356.6h3.6" stroke="#5e5e5e" stroke-width="0.9"/>
<path d="M574.08,353.1h2.4" stroke="#555" stroke-width="1.2"/>
<path d="M584.56,348.7V357.5" stroke="#5e5e5e" stroke-width="0.9" stroke-dasharray="1.2,0.6"/>
<path d="M582.76,348.7h3.6M582.76,357.5h3.6" stroke="#5e5e5e" stroke-width="0.9"/>
<path d="M583.36,353.1h2.4" stroke="#555" stroke-width="1.2"/>
<path d="M593.83,349.1V357.1" stroke="#5e5e5e" stroke-width="0.9" stroke-dasharray="1.2,0.6"/>
<path d="M592.03,349.1h3.6M592.03,357.1h3.6" stroke="#5e5e5e" stroke-width="0.9"/>
<path d="M592.63,353.1h2.4" stroke="#555" stroke-width="1.2"/>
<path d="M603.11,348.1V358.1" stroke="#5e5e5e" stroke-width="0.9" stroke-dasharray="1.2,0.6"/>
<path d="M601.31,348.1h3.6M601.31,358.1h3.6" stroke="#5e5e5e" stroke-width="0.9"/>
<path d="M601.91,353.1h2.4" stroke="#555" stroke-width="1.2"/>
<path d="M612.39,347.3V358.9" stroke="#5e5e5e" stroke-width="0.9" stroke-dasharray="1.2,0.6"/>
<path d="M610.59,347.3h3.6M610.59,358.9h3.6" stroke="#5e5e5e" stroke-width="0.9"/>
<path d="M611.19,353.1h2.4" stroke="#555" stroke-width="1.2"/>
<path d="M621.66,346.9V359.3" stroke="#5e5e5e" stroke-width="0.9" stroke-dasharray="1.2,0.6"/>
<path d="M619.86,346.9h3.6M619.86,359.3h3.6" stroke="#5e5e5e" stroke-width="0.9"/>
<path d="M620.46,353.1h2.4" stroke="#555" stroke-width="1.2"/>
<path d="M630.94,346.5V359.7" stroke="#5e5e5e" stroke-width="0.9" stroke-dasharray="1.2,0.6"/>
<path d="M629.14,346.5h3.6M629.14,359.7h3.6" stroke="#5e5e5e" stroke-width="0.9"/>
<path d="M629.74,353.1h2.4" stroke="#555" stroke-width="1.2"/>
<path d="M640.21,345.4V360.8" stroke="#5e5e5e" stroke-width="0.9" stroke-dasharray="1.2,0.6"/>
<path d="M638.41,345.4h3.6M638.41,360.8h3.6" stroke="#5e5e5e" stroke-width="0.9"/>
<path d="M639.01,353.1h2.4" stroke="#555" stroke-width="1.2"/>
<path d="M649.49,345.4V360.8" stroke="#5e5e5e" stroke-width="0.9" stroke-dasharray="1.2,0.6"/>
<path d="M647.69,345.4h3.6M647.69,360.8h3.6" stroke="#5e5e5e" stroke-width="0.9"/>
<path d="M648.29,353.1h2.4" stroke="#555" stroke-width="1.2"/>
<path d="M658.77,345.1V361.1" stroke="#5e5e5e" stroke-width="0.9" stroke-dasharray="1.2,0.6"/>
<path d="M656.97,345.1h3.6M656.97,361.1h3.6" stroke="#5e5e5e" stroke-width="0.9"/>
<path d="M657.57,353.1h2.4" stroke="#555" stroke-width="1.2"/>
<path d="M668.04,344.3V361.9" stroke="#5e5e5e" stroke-width="0.9" stroke-dasharray="1.2,0.6"/>
<path d="M666.24,344.3h3.6M666.24,361.9h3.6" stroke="#5e5e5e" stroke-width="0.9"/>
<path d="M666.84,353.1h2.4" stroke="#555" stroke-width="1.2"/>
<path d="M394.4,327.29H403.68V352.59H412.95V353.1H422.23V347.03H431.5V345.51H440.78V343.99H450.06V366.26H459.33V344.5H468.61V338.93H477.88V343.99H487.16V350.06H496.44V349.05H505.71V351.08H514.99V351.08H524.26V350.57H533.54V350.06H542.82V352.09H552.09V351.08H561.37V352.09H570.64V352.09H579.92V353.1H589.2V353.1H598.47V340.45H607.75V346.02H617.02V349.56H626.3V352.59H635.58V355.63H644.85V353.1H654.13V364.23H663.4V330.84H672.68V330.84H681.96" stroke="#ff00ff" stroke-width="1.2" stroke-dasharray="2,1" stroke-linejoin="miter"/>
<path d="M394.4,293.9H403.68V323.25H412.95V361.7H422.23V325.27H431.5V325.78H440.78V331.85H450.06V357.15H459.33V331.85H468.61V329.82H477.88V337.92H487.16V329.32H496.44V343.99H505.71V345H514.99V342.47H524.26V350.57H533.54V348.04H542.82V353.1H552.09V350.57H561.37V343.49H570.64V343.99H579.92V325.27H589.2V353.1H598.47V353.61H607.75V300.48H617.02V318.19H626.3V353.1H635.58V345H644.85V380.17H654.13V308.57H663.4V352.09H672.68V353.1H681.96" stroke="#00e000" stroke-width="1.2" stroke-linejoin="miter"/>
<path d="M394.4,315.15H403.68V396.11H412.95V372.83H422.23V339.94H431.5V338.43H440.78V347.03H450.06V358.67H459.33V366.76H468.61V345.51H477.88V353.61H487.16V338.93H496.44V348.04H505.71V353.1H514.99V361.2H524.26V353.1H533.54V350.57H542.82V354.62H552.09V353.1H561.37V354.11H570.64V354.11H579.92V357.15H589.2V355.63H598.47V355.63H607.75V361.7H617.02V374.35H626.3V383.97H635.58V346.02H644.85V399.65H654.13V320.72H663.4V329.32H672.68V429H681.96" stroke="#00e000" stroke-width="1.2" stroke-linejoin="miter"/>
<path d="M394.4,293.39H403.68V314.14H412.95V300.48H422.23V333.87H431.5V334.88H440.78V321.73H450.06V315.66H459.33V329.82H468.61V322.74H477.88V350.06H487.16V341.46H496.44V348.04H505.71V353.1H514.99V341.46H524.26V346.52H533.54V342.47H542.82V345H552.09V348.55H561.37V353.1H570.64V345.51H579.92V337.41H589.2V338.43H598.47V343.49H607.75V318.19H617.02V333.37H626.3V330.33H635.58V322.23H644.85V312.11H654.13V297.44H663.4V269.61H672.68V311.61H681.96" stroke="#111111" stroke-width="1.2" stroke-linejoin="miter"/>
<path d="M394.4,300.48H403.68V314.64H412.95V341.46H422.23V359.68H431.5V362.21H440.78V351.58H450.06V354.11H459.33V346.02H468.61V343.99H477.88V352.59H487.16V345.51H496.44V351.08H505.71V356.64H514.99V343.49H524.26V349.05H533.54V348.04H542.82V352.09H552.09V356.14H561.37V364.74H570.64V353.1H579.92V345.51H589.2V355.63H598.47V356.64H607.75V353.61H617.02V348.55H626.3V338.43H635.58V335.9H644.85V351.08H654.13V422.93H663.4V320.21H672.68V372.33H681.96" stroke="#111111" stroke-width="1.2" stroke-linejoin="miter"/>
</g>
<rect x="396.6" y="251.9" width="278.2" height="202.4" fill="none" stroke="#2e2e2e" stroke-width="1.3"/>
<text x="0" y="0" font-size="11.8" font-family='"Liberation Serif", serif' font-style="italic" text-anchor="middle" textLength="8.8" lengthAdjust="spacingAndGlyphs" fill="#1a1a1a" transform="translate(360.2,351.9) rotate(-90)">R</text>
<text x="577.1" y="263.2" font-size="9.2" font-family='"Liberation Mono", monospace' text-anchor="start" fill="#1a1a1a" textLength="20.4" lengthAdjust="spacingAndGlyphs" stroke="#1a1a1a" stroke-width="0.2">NNLO</text>
<text x="603.7" y="263.8" font-size="11" font-family='"Liberation Serif", serif' text-anchor="middle" fill="#1a1a1a" textLength="7" lengthAdjust="spacingAndGlyphs" stroke="#1a1a1a" stroke-width="0.1">−</text>
<text x="610.5" y="263.2" font-size="9.2" font-family='"Liberation Mono", monospace' text-anchor="start" fill="#1a1a1a" textLength="15.3" lengthAdjust="spacingAndGlyphs" stroke="#1a1a1a" stroke-width="0.2">QCD</text>
<path d="M632.4,259.8H662.2" stroke="#4a4a4a" stroke-width="0.95" stroke-dasharray="1.4,0.5" fill="none"/>
<path d="M632.4,258.1v3.4M662.2,258.1v3.4" stroke="#4a4a4a" stroke-width="0.95" fill="none"/>
<path d="M646.1,260.4l1.2,-1.6l1.2,1.6z" fill="#666"/>
<text x="584.1" y="274.2" font-size="9.2" font-family='"Liberation Mono", monospace' text-anchor="start" fill="#1a1a1a" textLength="41.7" lengthAdjust="spacingAndGlyphs" stroke="#1a1a1a" stroke-width="0.2">DYNNLOPS</text>
<path d="M632.4,270.8H662.2" stroke="#ff00ff" stroke-width="1.3" stroke-dasharray="2,1" fill="none"/>
<text x="584.7" y="285.5" font-size="9.2" font-family='"Liberation Mono", monospace' text-anchor="start" fill="#1a1a1a" textLength="31.2" lengthAdjust="spacingAndGlyphs" stroke="#1a1a1a" stroke-width="0.2">SHERPA</text>
<text x="617.7" y="285.5" font-size="10.4" font-family='"Liberation Serif", serif' text-anchor="start" fill="#1a1a1a" font-style="italic" textLength="7.8" lengthAdjust="spacingAndGlyphs" stroke="#1a1a1a" stroke-width="0.18">Q</text>
<path d="M632.4,282.1H662.2" stroke="#00e000" stroke-width="1.3" fill="none"/>
<text x="571.4" y="296.7" font-size="9.2" font-family='"Liberation Mono", monospace' text-anchor="start" fill="#1a1a1a" textLength="31.2" lengthAdjust="spacingAndGlyphs" stroke="#1a1a1a" stroke-width="0.2">SHERPA</text>
<text x="604.2" y="296.7" font-size="10.4" font-family='"Liberation Serif", serif' text-anchor="start" fill="#1a1a1a" font-style="italic" textLength="4.9" lengthAdjust="spacingAndGlyphs" stroke="#1a1a1a" stroke-width="0.18">μ</text>
<text x="610.8" y="298.5" font-size="6.8" font-family='"Liberation Serif", serif' text-anchor="start" fill="#1a1a1a" font-style="italic" textLength="14" lengthAdjust="spacingAndGlyphs" stroke="#1a1a1a" stroke-width="0.1">R,F</text>
<path d="M632.4,293.3H662.2" stroke="#111111" stroke-width="1.3" fill="none"/>
<text x="443.2" y="264.6" font-size="10.2" font-family='"Liberation Serif", serif' text-anchor="start" fill="#1a1a1a" textLength="50" lengthAdjust="spacingAndGlyphs" stroke="#1a1a1a" stroke-width="0.18">LHC 8 TeV</text>
<text x="443.2" y="285" font-size="10.2" font-family='"Liberation Serif", serif' text-anchor="start" fill="#1a1a1a" textLength="45.6" lengthAdjust="spacingAndGlyphs" stroke="#1a1a1a" stroke-width="0.18">muon bare</text>
<path d="M443.7,301.6H472.6" stroke="#1a1a1a" stroke-width="0.9"/>
<text x="457.65" y="299.6" font-size="6.8" font-family='"Liberation Serif", serif' text-anchor="middle" fill="#1a1a1a" font-style="italic" textLength="8.3" lengthAdjust="spacingAndGlyphs" stroke="#1a1a1a" stroke-width="0.1">dσ</text>
<text x="444" y="308.3" font-size="6.8" font-family='"Liberation Serif", serif' text-anchor="start" fill="#1a1a1a" font-style="italic" textLength="12" lengthAdjust="spacingAndGlyphs" stroke="#1a1a1a" stroke-width="0.1">dM</text>
<text x="456.3" y="309.9" font-size="5.2" font-family='"Liberation Serif", serif' text-anchor="start" fill="#1a1a1a" font-style="italic" textLength="14.6" lengthAdjust="spacingAndGlyphs" stroke="#1a1a1a" stroke-width="0.1">l+l−</text>
<path d="M513.4,394.5h4.1" stroke="#1a1a1a" stroke-width="0.55"/>
<text x="515.45" y="393.6" font-size="6.8" font-family='"Liberation Serif", serif' text-anchor="middle" fill="#1a1a1a" stroke="#1a1a1a" stroke-width="0.1">1</text>
<text x="515.45" y="400.4" font-size="6.8" font-family='"Liberation Serif", serif' text-anchor="middle" fill="#1a1a1a" stroke="#1a1a1a" stroke-width="0.1">2</text>
<text x="522.1" y="398.1" font-size="11.6" font-family='"Liberation Serif", serif' text-anchor="start" fill="#1a1a1a" textLength="6.2" lengthAdjust="spacingAndGlyphs" stroke="#1a1a1a" stroke-width="0.18">≤</text>
<path d="M532.8,394.8h21.5" stroke="#1a1a1a" stroke-width="0.65"/>
<text x="543.6" y="392.7" font-size="7.4" font-family='"Liberation Serif", serif' text-anchor="middle" fill="#1a1a1a" font-style="italic" stroke="#1a1a1a" stroke-width="0.1">Q</text>
<text x="543.8" y="401.1" font-size="7.6" font-family='"Liberation Serif", serif' text-anchor="middle" fill="#1a1a1a" font-style="italic" textLength="19" lengthAdjust="spacingAndGlyphs" >XXX</text>
<text x="558.3" y="398.1" font-size="11.6" font-family='"Liberation Serif", serif' text-anchor="start" fill="#1a1a1a" textLength="6.4" lengthAdjust="spacingAndGlyphs" stroke="#1a1a1a" stroke-width="0.18">≤</text>
<text x="568.6" y="397.7" font-size="10.4" font-family='"Liberation Serif", serif' text-anchor="start" fill="#1a1a1a" textLength="5.1" lengthAdjust="spacingAndGlyphs" stroke="#1a1a1a" stroke-width="0.18">2</text>
<text x="442.9" y="416.9" font-size="10.4" font-family='"Liberation Serif", serif' text-anchor="start" fill="#1a1a1a" font-style="italic" textLength="4.4" lengthAdjust="spacingAndGlyphs" stroke="#1a1a1a" stroke-width="0.18">μ</text>
<text x="449.4" y="418.1" font-size="7" font-family='"Liberation Serif", serif' text-anchor="start" fill="#1a1a1a" font-style="italic" textLength="5" lengthAdjust="spacingAndGlyphs" stroke="#1a1a1a" stroke-width="0.1">R</text>
<text x="458" y="417.4" font-size="11.4" font-family='"Liberation Serif", serif' text-anchor="start" fill="#1a1a1a" textLength="7.4" lengthAdjust="spacingAndGlyphs" stroke="#1a1a1a" stroke-width="0.18">=</text>
<text x="469.2" y="416.9" font-size="10.4" font-family='"Liberation Serif", serif' text-anchor="start" fill="#1a1a1a" font-style="italic" textLength="4.4" lengthAdjust="spacingAndGlyphs" stroke="#1a1a1a" stroke-width="0.18">μ</text>
<text x="475.6" y="418.1" font-size="7" font-family='"Liberation Serif", serif' text-anchor="start" fill="#1a1a1a" font-style="italic" textLength="5" lengthAdjust="spacingAndGlyphs" stroke="#1a1a1a" stroke-width="0.1">F</text>
<text x="484.3" y="417.4" font-size="11.4" font-family='"Liberation Serif", serif' text-anchor="start" fill="#1a1a1a" textLength="7.4" lengthAdjust="spacingAndGlyphs" stroke="#1a1a1a" stroke-width="0.18">=</text>
<text x="495.5" y="416.9" font-size="10.4" font-family='"Liberation Serif", serif' text-anchor="start" fill="#1a1a1a" font-style="italic" textLength="4.4" lengthAdjust="spacingAndGlyphs" stroke="#1a1a1a" stroke-width="0.18">μ</text>
<text x="501.7" y="416.9" font-size="10.4" font-family='"Liberation Serif", serif' text-anchor="start" fill="#1a1a1a" stroke="#1a1a1a" stroke-width="0.18">,</text>
<path d="M516.3,413.6h4.1" stroke="#1a1a1a" stroke-width="0.55"/>
<text x="518.35" y="412.7" font-size="6.8" font-family='"Liberation Serif", serif' text-anchor="middle" fill="#1a1a1a" stroke="#1a1a1a" stroke-width="0.1">1</text>
<text x="518.35" y="419.5" font-size="6.8" font-family='"Liberation Serif", serif' text-anchor="middle" fill="#1a1a1a" stroke="#1a1a1a" stroke-width="0.1">2</text>
<text x="525" y="417.2" font-size="11.6" font-family='"Liberation Serif", serif' text-anchor="start" fill="#1a1a1a" textLength="6.6" lengthAdjust="spacingAndGlyphs" stroke="#1a1a1a" stroke-width="0.18">≤</text>
<path d="M536.3,413.8h12.9" stroke="#1a1a1a" stroke-width="0.65"/>
<text x="542.8" y="412.3" font-size="6.8" font-family='"Liberation Serif", serif' text-anchor="middle" fill="#1a1a1a" font-style="italic" stroke="#1a1a1a" stroke-width="0.1">μ</text>
<text x="537.8" y="420.2" font-size="6.8" font-family='"Liberation Serif", serif' text-anchor="start" fill="#1a1a1a" font-style="italic" textLength="6.2" lengthAdjust="spacingAndGlyphs" stroke="#1a1a1a" stroke-width="0.1">M</text>
<text x="544.2" y="421.2" font-size="4.8" font-family='"Liberation Serif", serif' text-anchor="start" fill="#1a1a1a" font-style="italic" textLength="3.4" lengthAdjust="spacingAndGlyphs" stroke="#1a1a1a" stroke-width="0.1">ll</text>
<text x="553.6" y="417.2" font-size="11.6" font-family='"Liberation Serif", serif' text-anchor="start" fill="#1a1a1a" textLength="6.6" lengthAdjust="spacingAndGlyphs" stroke="#1a1a1a" stroke-width="0.18">≤</text>
<text x="563.9" y="417" font-size="10.4" font-family='"Liberation Serif", serif' text-anchor="start" fill="#1a1a1a" textLength="5.1" lengthAdjust="spacingAndGlyphs" stroke="#1a1a1a" stroke-width="0.18">2</text>
<text x="442.9" y="431.4" font-size="10.2" font-family='"Liberation Serif", serif' text-anchor="start" fill="#1a1a1a" textLength="6.1" lengthAdjust="spacingAndGlyphs" stroke="#1a1a1a" stroke-width="0.18">R</text>
<text x="449.2" y="432.6" font-size="11.2" font-family='"Liberation Serif", serif' text-anchor="start" fill="#1a1a1a" textLength="7.4" lengthAdjust="spacingAndGlyphs" stroke="#1a1a1a" stroke-width="0.18">=</text>
<text x="457.2" y="431.4" font-size="8.4" font-family='"Liberation Mono", monospace' text-anchor="start" fill="#1a1a1a" textLength="25.6" lengthAdjust="spacingAndGlyphs" stroke="#1a1a1a" stroke-width="0.2">code/</text>
<text x="483.2" y="431.4" font-size="9.2" font-family='"Liberation Mono", monospace' text-anchor="start" fill="#1a1a1a" textLength="42.6" lengthAdjust="spacingAndGlyphs" stroke="#1a1a1a" stroke-width="0.2">NNLO-QCD</text>
<text x="505.1" y="483.5" font-size="10.6" font-family='"Liberation Serif", serif' text-anchor="start" fill="#1a1a1a" font-style="italic" textLength="11" lengthAdjust="spacingAndGlyphs" stroke="#1a1a1a" stroke-width="0.18">M</text>
<text x="515.9" y="485.8" font-size="7.6" font-family='"Liberation Serif", serif' text-anchor="start" fill="#1a1a1a" font-style="italic" textLength="17.2" lengthAdjust="spacingAndGlyphs" stroke="#1a1a1a" stroke-width="0.1">l+l−</text>
<text x="541.2" y="483.5" font-size="10.4" font-family='"Liberation Serif", serif' text-anchor="start" fill="#1a1a1a" textLength="31.1" lengthAdjust="spacingAndGlyphs" stroke="#1a1a1a" stroke-width="0.18">(GeV)</text>
<clipPath id="c4"><rect x="40.5" y="494.5" width="284.8" height="202.5"/></clipPath>
<path d="M40.5,697h2.8M325.3,697h-2.8" stroke="#333" stroke-width="1" fill="none"/>
<text x="34.2" y="699.6" font-size="10.4" font-family='"Liberation Serif", serif' text-anchor="end" fill="#1a1a1a" stroke="#1a1a1a" stroke-width="0.18">0.8</text>
<path d="M40.5,668.07h2.8M325.3,668.07h-2.8" stroke="#333" stroke-width="1" fill="none"/>
<text x="34.2" y="670.67" font-size="10.4" font-family='"Liberation Serif", serif' text-anchor="end" fill="#1a1a1a" stroke="#1a1a1a" stroke-width="0.18">0.9</text>
<path d="M40.5,639.14h2.8M325.3,639.14h-2.8" stroke="#333" stroke-width="1" fill="none"/>
<text x="34.2" y="641.74" font-size="10.4" font-family='"Liberation Serif", serif' text-anchor="end" fill="#1a1a1a" stroke="#1a1a1a" stroke-width="0.18">1</text>
<path d="M40.5,610.21h2.8M325.3,610.21h-2.8" stroke="#333" stroke-width="1" fill="none"/>
<text x="34.2" y="612.81" font-size="10.4" font-family='"Liberation Serif", serif' text-anchor="end" fill="#1a1a1a" stroke="#1a1a1a" stroke-width="0.18">1.1</text>
<path d="M40.5,581.29h2.8M325.3,581.29h-2.8" stroke="#333" stroke-width="1" fill="none"/>
<text x="34.2" y="583.89" font-size="10.4" font-family='"Liberation Serif", serif' text-anchor="end" fill="#1a1a1a" stroke="#1a1a1a" stroke-width="0.18">1.2</text>
<path d="M40.5,552.36h2.8M325.3,552.36h-2.8" stroke="#333" stroke-width="1" fill="none"/>
<text x="34.2" y="554.96" font-size="10.4" font-family='"Liberation Serif", serif' text-anchor="end" fill="#1a1a1a" stroke="#1a1a1a" stroke-width="0.18">1.3</text>
<path d="M40.5,523.43h2.8M325.3,523.43h-2.8" stroke="#333" stroke-width="1" fill="none"/>
<text x="34.2" y="526.03" font-size="10.4" font-family='"Liberation Serif", serif' text-anchor="end" fill="#1a1a1a" stroke="#1a1a1a" stroke-width="0.18">1.4</text>
<path d="M40.5,494.5h2.8M325.3,494.5h-2.8" stroke="#333" stroke-width="1" fill="none"/>
<text x="34.2" y="497.1" font-size="10.4" font-family='"Liberation Serif", serif' text-anchor="end" fill="#1a1a1a" stroke="#1a1a1a" stroke-width="0.18">1.5</text>
<path d="M40.5,697v-2.8M40.5,494.5v2.8" stroke="#333" stroke-width="1" fill="none"/>
<text x="42.5" y="710.8" font-size="10.4" font-family='"Liberation Serif", serif' text-anchor="middle" fill="#1a1a1a" stroke="#1a1a1a" stroke-width="0.18">0</text>
<path d="M87.97,697v-2.8M87.97,494.5v2.8" stroke="#333" stroke-width="1" fill="none"/>
<text x="89.97" y="710.8" font-size="10.4" font-family='"Liberation Serif", serif' text-anchor="middle" fill="#1a1a1a" stroke="#1a1a1a" stroke-width="0.18">50</text>
<path d="M135.43,697v-2.8M135.43,494.5v2.8" stroke="#333" stroke-width="1" fill="none"/>
<text x="137.43" y="710.8" font-size="10.4" font-family='"Liberation Serif", serif' text-anchor="middle" fill="#1a1a1a" stroke="#1a1a1a" stroke-width="0.18">100</text>
<path d="M182.9,697v-2.8M182.9,494.5v2.8" stroke="#333" stroke-width="1" fill="none"/>
<text x="184.9" y="710.8" font-size="10.4" font-family='"Liberation Serif", serif' text-anchor="middle" fill="#1a1a1a" stroke="#1a1a1a" stroke-width="0.18">150</text>
<path d="M230.37,697v-2.8M230.37,494.5v2.8" stroke="#333" stroke-width="1" fill="none"/>
<text x="232.37" y="710.8" font-size="10.4" font-family='"Liberation Serif", serif' text-anchor="middle" fill="#1a1a1a" stroke="#1a1a1a" stroke-width="0.18">200</text>
<path d="M277.83,697v-2.8M277.83,494.5v2.8" stroke="#333" stroke-width="1" fill="none"/>
<text x="279.83" y="710.8" font-size="10.4" font-family='"Liberation Serif", serif' text-anchor="middle" fill="#1a1a1a" stroke="#1a1a1a" stroke-width="0.18">250</text>
<path d="M325.3,697v-2.8M325.3,494.5v2.8" stroke="#333" stroke-width="1" fill="none"/>
<text x="327.3" y="710.8" font-size="10.4" font-family='"Liberation Serif", serif' text-anchor="middle" fill="#1a1a1a" stroke="#1a1a1a" stroke-width="0.18">300</text>
<g clip-path="url(#c4)" fill="none">
<path d="M45.05,637.64V640.64" stroke="#5e5e5e" stroke-width="0.9" stroke-dasharray="1.2,0.6"/>
<path d="M43.25,637.64h3.6M43.25,640.64h3.6" stroke="#5e5e5e" stroke-width="0.9"/>
<path d="M43.85,639.14h2.4" stroke="#555" stroke-width="1.2"/>
<path d="M54.55,637.64V640.64" stroke="#5e5e5e" stroke-width="0.9" stroke-dasharray="1.2,0.6"/>
<path d="M52.75,637.64h3.6M52.75,640.64h3.6" stroke="#5e5e5e" stroke-width="0.9"/>
<path d="M53.35,639.14h2.4" stroke="#555" stroke-width="1.2"/>
<path d="M64.05,637.64V640.64" stroke="#5e5e5e" stroke-width="0.9" stroke-dasharray="1.2,0.6"/>
<path d="M62.25,637.64h3.6M62.25,640.64h3.6" stroke="#5e5e5e" stroke-width="0.9"/>
<path d="M62.85,639.14h2.4" stroke="#555" stroke-width="1.2"/>
<path d="M73.55,637.64V640.64" stroke="#5e5e5e" stroke-width="0.9" stroke-dasharray="1.2,0.6"/>
<path d="M71.75,637.64h3.6M71.75,640.64h3.6" stroke="#5e5e5e" stroke-width="0.9"/>
<path d="M72.35,639.14h2.4" stroke="#555" stroke-width="1.2"/>
<path d="M83.05,637.64V640.64" stroke="#5e5e5e" stroke-width="0.9" stroke-dasharray="1.2,0.6"/>
<path d="M81.25,637.64h3.6M81.25,640.64h3.6" stroke="#5e5e5e" stroke-width="0.9"/>
<path d="M81.85,639.14h2.4" stroke="#555" stroke-width="1.2"/>
<path d="M92.55,637.64V640.64" stroke="#5e5e5e" stroke-width="0.9" stroke-dasharray="1.2,0.6"/>
<path d="M90.75,637.64h3.6M90.75,640.64h3.6" stroke="#5e5e5e" stroke-width="0.9"/>
<path d="M91.35,639.14h2.4" stroke="#555" stroke-width="1.2"/>
<path d="M102.05,637.54V640.74" stroke="#5e5e5e" stroke-width="0.9" stroke-dasharray="1.2,0.6"/>
<path d="M100.25,637.54h3.6M100.25,640.74h3.6" stroke="#5e5e5e" stroke-width="0.9"/>
<path d="M100.85,639.14h2.4" stroke="#555" stroke-width="1.2"/>
<path d="M111.55,636.34V641.94" stroke="#5e5e5e" stroke-width="0.9" stroke-dasharray="1.2,0.6"/>
<path d="M109.75,636.34h3.6M109.75,641.94h3.6" stroke="#5e5e5e" stroke-width="0.9"/>
<path d="M110.35,639.14h2.4" stroke="#555" stroke-width="1.2"/>
<path d="M121.05,635.34V642.94" stroke="#5e5e5e" stroke-width="0.9" stroke-dasharray="1.2,0.6"/>
<path d="M119.25,635.34h3.6M119.25,642.94h3.6" stroke="#5e5e5e" stroke-width="0.9"/>
<path d="M119.85,639.14h2.4" stroke="#555" stroke-width="1.2"/>
<path d="M130.55,634.84V643.44" stroke="#5e5e5e" stroke-width="0.9" stroke-dasharray="1.2,0.6"/>
<path d="M128.75,634.84h3.6M128.75,643.44h3.6" stroke="#5e5e5e" stroke-width="0.9"/>
<path d="M129.35,639.14h2.4" stroke="#555" stroke-width="1.2"/>
<path d="M140.05,635.94V642.34" stroke="#5e5e5e" stroke-width="0.9" stroke-dasharray="1.2,0.6"/>
<path d="M138.25,635.94h3.6M138.25,642.34h3.6" stroke="#5e5e5e" stroke-width="0.9"/>
<path d="M138.85,639.14h2.4" stroke="#555" stroke-width="1.2"/>
<path d="M149.55,635.34V642.94" stroke="#5e5e5e" stroke-width="0.9" stroke-dasharray="1.2,0.6"/>
<path d="M147.75,635.34h3.6M147.75,642.94h3.6" stroke="#5e5e5e" stroke-width="0.9"/>
<path d="M148.35,639.14h2.4" stroke="#555" stroke-width="1.2"/>
<path d="M159.05,634.64V643.64" stroke="#5e5e5e" stroke-width="0.9" stroke-dasharray="1.2,0.6"/>
<path d="M157.25,634.64h3.6M157.25,643.64h3.6" stroke="#5e5e5e" stroke-width="0.9"/>
<path d="M157.85,639.14h2.4" stroke="#555" stroke-width="1.2"/>
<path d="M168.55,634.44V643.84" stroke="#5e5e5e" stroke-width="0.9" stroke-dasharray="1.2,0.6"/>
<path d="M166.75,634.44h3.6M166.75,643.84h3.6" stroke="#5e5e5e" stroke-width="0.9"/>
<path d="M167.35,639.14h2.4" stroke="#555" stroke-width="1.2"/>
<path d="M178.05,633.44V644.84" stroke="#5e5e5e" stroke-width="0.9" stroke-dasharray="1.2,0.6"/>
<path d="M176.25,633.44h3.6M176.25,644.84h3.6" stroke="#5e5e5e" stroke-width="0.9"/>
<path d="M176.85,639.14h2.4" stroke="#555" stroke-width="1.2"/>
<path d="M187.55,632.94V645.34" stroke="#5e5e5e" stroke-width="0.9" stroke-dasharray="1.2,0.6"/>
<path d="M185.75,632.94h3.6M185.75,645.34h3.6" stroke="#5e5e5e" stroke-width="0.9"/>
<path d="M186.35,639.14h2.4" stroke="#555" stroke-width="1.2"/>
<path d="M197.05,632.54V645.74" stroke="#5e5e5e" stroke-width="0.9" stroke-dasharray="1.2,0.6"/>
<path d="M195.25,632.54h3.6M195.25,645.74h3.6" stroke="#5e5e5e" stroke-width="0.9"/>
<path d="M195.85,639.14h2.4" stroke="#555" stroke-width="1.2"/>
<path d="M206.55,631.84V646.44" stroke="#5e5e5e" stroke-width="0.9" stroke-dasharray="1.2,0.6"/>
<path d="M204.75,631.84h3.6M204.75,646.44h3.6" stroke="#5e5e5e" stroke-width="0.9"/>
<path d="M205.35,639.14h2.4" stroke="#555" stroke-width="1.2"/>
<path d="M216.05,631.54V646.74" stroke="#5e5e5e" stroke-width="0.9" stroke-dasharray="1.2,0.6"/>
<path d="M214.25,631.54h3.6M214.25,646.74h3.6" stroke="#5e5e5e" stroke-width="0.9"/>
<path d="M214.85,639.14h2.4" stroke="#555" stroke-width="1.2"/>
<path d="M225.55,631.54V646.74" stroke="#5e5e5e" stroke-width="0.9" stroke-dasharray="1.2,0.6"/>
<path d="M223.75,631.54h3.6M223.75,646.74h3.6" stroke="#5e5e5e" stroke-width="0.9"/>
<path d="M224.35,639.14h2.4" stroke="#555" stroke-width="1.2"/>
<path d="M235.05,631.14V647.14" stroke="#5e5e5e" stroke-width="0.9" stroke-dasharray="1.2,0.6"/>
<path d="M233.25,631.14h3.6M233.25,647.14h3.6" stroke="#5e5e5e" stroke-width="0.9"/>
<path d="M233.85,639.14h2.4" stroke="#555" stroke-width="1.2"/>
<path d="M244.55,630.64V647.64" stroke="#5e5e5e" stroke-width="0.9" stroke-dasharray="1.2,0.6"/>
<path d="M242.75,630.64h3.6M242.75,647.64h3.6" stroke="#5e5e5e" stroke-width="0.9"/>
<path d="M243.35,639.14h2.4" stroke="#555" stroke-width="1.2"/>
<path d="M254.05,630.14V648.14" stroke="#5e5e5e" stroke-width="0.9" stroke-dasharray="1.2,0.6"/>
<path d="M252.25,630.14h3.6M252.25,648.14h3.6" stroke="#5e5e5e" stroke-width="0.9"/>
<path d="M252.85,639.14h2.4" stroke="#555" stroke-width="1.2"/>
<path d="M263.55,629.34V648.94" stroke="#5e5e5e" stroke-width="0.9" stroke-dasharray="1.2,0.6"/>
<path d="M261.75,629.34h3.6M261.75,648.94h3.6" stroke="#5e5e5e" stroke-width="0.9"/>
<path d="M262.35,639.14h2.4" stroke="#555" stroke-width="1.2"/>
<path d="M273.05,629.14V649.14" stroke="#5e5e5e" stroke-width="0.9" stroke-dasharray="1.2,0.6"/>
<path d="M271.25,629.14h3.6M271.25,649.14h3.6" stroke="#5e5e5e" stroke-width="0.9"/>
<path d="M271.85,639.14h2.4" stroke="#555" stroke-width="1.2"/>
<path d="M282.55,628.74V649.54" stroke="#5e5e5e" stroke-width="0.9" stroke-dasharray="1.2,0.6"/>
<path d="M280.75,628.74h3.6M280.75,649.54h3.6" stroke="#5e5e5e" stroke-width="0.9"/>
<path d="M281.35,639.14h2.4" stroke="#555" stroke-width="1.2"/>
<path d="M292.05,628.14V650.14" stroke="#5e5e5e" stroke-width="0.9" stroke-dasharray="1.2,0.6"/>
<path d="M290.25,628.14h3.6M290.25,650.14h3.6" stroke="#5e5e5e" stroke-width="0.9"/>
<path d="M290.85,639.14h2.4" stroke="#555" stroke-width="1.2"/>
<path d="M301.55,626.84V651.44" stroke="#5e5e5e" stroke-width="0.9" stroke-dasharray="1.2,0.6"/>
<path d="M299.75,626.84h3.6M299.75,651.44h3.6" stroke="#5e5e5e" stroke-width="0.9"/>
<path d="M300.35,639.14h2.4" stroke="#555" stroke-width="1.2"/>
<path d="M311.05,624.74V653.54" stroke="#5e5e5e" stroke-width="0.9" stroke-dasharray="1.2,0.6"/>
<path d="M309.25,624.74h3.6M309.25,653.54h3.6" stroke="#5e5e5e" stroke-width="0.9"/>
<path d="M309.85,639.14h2.4" stroke="#555" stroke-width="1.2"/>
<path d="M320.55,626.84V651.44" stroke="#5e5e5e" stroke-width="0.9" stroke-dasharray="1.2,0.6"/>
<path d="M318.75,626.84h3.6M318.75,651.44h3.6" stroke="#5e5e5e" stroke-width="0.9"/>
<path d="M319.35,639.14h2.4" stroke="#555" stroke-width="1.2"/>
<path d="M40.3,631.33H49.8V634.23H59.3V592.57H68.8V576.95H78.3V575.79H87.8V573.48H97.3V572.32H106.8V571.45H116.3V573.76H125.8V577.52H135.3V582.44H144.8V594.01H154.3V594.01H163.8V598.06H173.3V598.93H182.8V616.87H192.3V619.76H201.8V613.11H211.3V616.87H220.8V639.72H230.3V626.41H239.8V626.41H249.3V634.8H258.8V627.28H268.3V650.14H277.8V625.55H287.3V619.76H296.8V637.41H306.3V620.34H315.8V634.8H325.3" stroke="#ff00ff" stroke-width="1.2" stroke-linejoin="miter"/>
<path d="M40.3,670.96H49.8V655.05H59.3V625.55H68.8V618.89H78.3V621.79H87.8V623.52H97.3V629.31H106.8V633.07H116.3V638.85H125.8V646.38H135.3V650.14H144.8V658.81H154.3V657.66H163.8V676.75H173.3V664.31H182.8V673.86H192.3V678.49H201.8V673.57H211.3V679.64H220.8V699.89H230.3V686.01H239.8V688.9H249.3V691.79H258.8V685.14H268.3V699.89H277.8V686.01H287.3V686.01H296.8V699.89H306.3V687.16H315.8V699.89H325.3" stroke="#ff00ff" stroke-width="1.2" stroke-linejoin="miter"/>
<path d="M40.3,632.2H49.8V650.14H59.3V629.89H68.8V624.68H78.3V625.55H87.8V624.1H97.3V626.99H106.8V627.57H116.3V630.75H125.8V630.75H135.3V628.44H144.8V630.18H154.3V631.62H163.8V633.07H173.3V633.94H182.8V637.41H192.3V630.75H201.8V632.2H211.3V638.85H220.8V635.09H230.3V636.54H239.8V640.59H249.3V645.51H258.8V635.96H268.3V641.17H277.8V633.07H287.3V639.72H296.8V637.41H306.3V634.8H315.8V653.9H325.3V725.93H334.8" stroke="#0000ff" stroke-width="1.4" stroke-dasharray="2,1" stroke-linejoin="miter"/>
</g>
<rect x="40.5" y="494.5" width="284.8" height="202.5" fill="none" stroke="#2e2e2e" stroke-width="1.3"/>
<text x="0" y="0" font-size="11.8" font-family='"Liberation Serif", serif' font-style="italic" text-anchor="middle" textLength="8.8" lengthAdjust="spacingAndGlyphs" fill="#1a1a1a" transform="translate(10,594.3) rotate(-90)">R</text>
<text x="227.5" y="506.6" font-size="9.2" font-family='"Liberation Mono", monospace' text-anchor="start" fill="#1a1a1a" textLength="20.4" lengthAdjust="spacingAndGlyphs" stroke="#1a1a1a" stroke-width="0.2">NNLO</text>
<text x="254.1" y="507.2" font-size="11" font-family='"Liberation Serif", serif' text-anchor="middle" fill="#1a1a1a" textLength="7" lengthAdjust="spacingAndGlyphs" stroke="#1a1a1a" stroke-width="0.1">−</text>
<text x="260.9" y="506.6" font-size="9.2" font-family='"Liberation Mono", monospace' text-anchor="start" fill="#1a1a1a" textLength="15.3" lengthAdjust="spacingAndGlyphs" stroke="#1a1a1a" stroke-width="0.2">QCD</text>
<path d="M283,503.2H312.6" stroke="#4a4a4a" stroke-width="0.95" stroke-dasharray="1.4,0.5" fill="none"/>
<path d="M283,501.5v3.4M312.6,501.5v3.4" stroke="#4a4a4a" stroke-width="0.95" fill="none"/>
<path d="M296.6,503.8l1.2,-1.6l1.2,1.6z" fill="#666"/>
<text x="234.5" y="517.4" font-size="9.2" font-family='"Liberation Mono", monospace' text-anchor="start" fill="#1a1a1a" textLength="41.7" lengthAdjust="spacingAndGlyphs" stroke="#1a1a1a" stroke-width="0.2">DYNNLOPS</text>
<path d="M283,514H312.6" stroke="#ff00ff" stroke-width="1.3" fill="none"/>
<text x="198" y="528.4" font-size="9.2" font-family='"Liberation Mono", monospace' text-anchor="start" fill="#1a1a1a" textLength="30.9" lengthAdjust="spacingAndGlyphs" stroke="#1a1a1a" stroke-width="0.2">SHERPA</text>
<text x="232.8" y="528.4" font-size="9.2" font-family='"Liberation Mono", monospace' text-anchor="start" fill="#1a1a1a" textLength="20.2" lengthAdjust="spacingAndGlyphs" stroke="#1a1a1a" stroke-width="0.2">NNLO</text>
<text x="259.2" y="530.3" font-size="12.6" font-family='"Liberation Serif", serif' text-anchor="middle" fill="#1a1a1a" textLength="6.4" lengthAdjust="spacingAndGlyphs" >+</text>
<text x="265.2" y="528.4" font-size="9.2" font-family='"Liberation Mono", monospace' text-anchor="start" fill="#1a1a1a" textLength="11" lengthAdjust="spacingAndGlyphs" stroke="#1a1a1a" stroke-width="0.2">PS</text>
<path d="M283,525H312.6" stroke="#0000ff" stroke-width="1.3" stroke-dasharray="2,1" fill="none"/>
<text x="64.5" y="526.1" font-size="10.2" font-family='"Liberation Serif", serif' text-anchor="start" fill="#1a1a1a" textLength="50" lengthAdjust="spacingAndGlyphs" stroke="#1a1a1a" stroke-width="0.18">LHC 8 TeV</text>
<text x="64.5" y="540.4" font-size="10.2" font-family='"Liberation Serif", serif' text-anchor="start" fill="#1a1a1a" textLength="45.6" lengthAdjust="spacingAndGlyphs" stroke="#1a1a1a" stroke-width="0.18">muon bare</text>
<path d="M64.9,550.6H78.8" stroke="#1a1a1a" stroke-width="0.9"/>
<text x="71.85" y="549" font-size="6" font-family='"Liberation Serif", serif' text-anchor="middle" fill="#1a1a1a" font-style="italic" textLength="7.4" lengthAdjust="spacingAndGlyphs" stroke="#1a1a1a" stroke-width="0.1">dσ</text>
<text x="65.1" y="556.6" font-size="6.2" font-family='"Liberation Serif", serif' text-anchor="start" fill="#1a1a1a" font-style="italic" textLength="7.2" lengthAdjust="spacingAndGlyphs" stroke="#1a1a1a" stroke-width="0.1">dp</text>
<text x="72.9" y="553.5" font-size="5" font-family='"Liberation Serif", serif' text-anchor="start" fill="#1a1a1a" font-style="italic" textLength="3.8" lengthAdjust="spacingAndGlyphs" stroke="#1a1a1a" stroke-width="0.1">Z</text>
<path d="M72.9,559.6H76.1M74.5,559.6V557" stroke="#1a1a1a" stroke-width="0.5" fill="none"/>
<text x="64.6" y="685" font-size="10.2" font-family='"Liberation Serif", serif' text-anchor="start" fill="#1a1a1a" textLength="6.1" lengthAdjust="spacingAndGlyphs" stroke="#1a1a1a" stroke-width="0.18">R</text>
<text x="70.9" y="686.2" font-size="11.2" font-family='"Liberation Serif", serif' text-anchor="start" fill="#1a1a1a" textLength="7.4" lengthAdjust="spacingAndGlyphs" stroke="#1a1a1a" stroke-width="0.18">=</text>
<text x="78.9" y="685" font-size="8.4" font-family='"Liberation Mono", monospace' text-anchor="start" fill="#1a1a1a" textLength="25.6" lengthAdjust="spacingAndGlyphs" stroke="#1a1a1a" stroke-width="0.2">code/</text>
<text x="104.9" y="685" font-size="9.2" font-family='"Liberation Mono", monospace' text-anchor="start" fill="#1a1a1a" textLength="42.6" lengthAdjust="spacingAndGlyphs" stroke="#1a1a1a" stroke-width="0.2">NNLO-QCD</text>
<text x="160" y="725.3" font-size="10.6" font-family='"Liberation Serif", serif' text-anchor="start" fill="#1a1a1a" font-style="italic" textLength="6.3" lengthAdjust="spacingAndGlyphs" stroke="#1a1a1a" stroke-width="0.18">p</text>
<text x="166.6" y="722.1" font-size="7.6" font-family='"Liberation Serif", serif' text-anchor="start" fill="#1a1a1a" font-style="italic" textLength="5" lengthAdjust="spacingAndGlyphs" stroke="#1a1a1a" stroke-width="0.1">Z</text>
<path d="M166.8,729.8H172.8M169.8,729.8V724.2" stroke="#1a1a1a" stroke-width="0.75" fill="none"/>
<text x="178.6" y="725.9" font-size="10.4" font-family='"Liberation Serif", serif' text-anchor="start" fill="#1a1a1a" textLength="31.5" lengthAdjust="spacingAndGlyphs" stroke="#1a1a1a" stroke-width="0.18">(GeV)</text>
<clipPath id="c5"><rect x="390.3" y="494.5" width="284.8" height="202.5"/></clipPath>
<path d="M390.3,697h2.8M675.1,697h-2.8" stroke="#333" stroke-width="1" fill="none"/>
<text x="384" y="699.6" font-size="10.4" font-family='"Liberation Serif", serif' text-anchor="end" fill="#1a1a1a" stroke="#1a1a1a" stroke-width="0.18">0.8</text>
<path d="M390.3,668.07h2.8M675.1,668.07h-2.8" stroke="#333" stroke-width="1" fill="none"/>
<text x="384" y="670.67" font-size="10.4" font-family='"Liberation Serif", serif' text-anchor="end" fill="#1a1a1a" stroke="#1a1a1a" stroke-width="0.18">0.9</text>
<path d="M390.3,639.14h2.8M675.1,639.14h-2.8" stroke="#333" stroke-width="1" fill="none"/>
<text x="384" y="641.74" font-size="10.4" font-family='"Liberation Serif", serif' text-anchor="end" fill="#1a1a1a" stroke="#1a1a1a" stroke-width="0.18">1</text>
<path d="M390.3,610.21h2.8M675.1,610.21h-2.8" stroke="#333" stroke-width="1" fill="none"/>
<text x="384" y="612.81" font-size="10.4" font-family='"Liberation Serif", serif' text-anchor="end" fill="#1a1a1a" stroke="#1a1a1a" stroke-width="0.18">1.1</text>
<path d="M390.3,581.29h2.8M675.1,581.29h-2.8" stroke="#333" stroke-width="1" fill="none"/>
<text x="384" y="583.89" font-size="10.4" font-family='"Liberation Serif", serif' text-anchor="end" fill="#1a1a1a" stroke="#1a1a1a" stroke-width="0.18">1.2</text>
<path d="M390.3,552.36h2.8M675.1,552.36h-2.8" stroke="#333" stroke-width="1" fill="none"/>
<text x="384" y="554.96" font-size="10.4" font-family='"Liberation Serif", serif' text-anchor="end" fill="#1a1a1a" stroke="#1a1a1a" stroke-width="0.18">1.3</text>
<path d="M390.3,523.43h2.8M675.1,523.43h-2.8" stroke="#333" stroke-width="1" fill="none"/>
<text x="384" y="526.03" font-size="10.4" font-family='"Liberation Serif", serif' text-anchor="end" fill="#1a1a1a" stroke="#1a1a1a" stroke-width="0.18">1.4</text>
<path d="M390.3,494.5h2.8M675.1,494.5h-2.8" stroke="#333" stroke-width="1" fill="none"/>
<text x="384" y="497.1" font-size="10.4" font-family='"Liberation Serif", serif' text-anchor="end" fill="#1a1a1a" stroke="#1a1a1a" stroke-width="0.18">1.5</text>
<path d="M390.3,697v-2.8M390.3,494.5v2.8" stroke="#333" stroke-width="1" fill="none"/>
<text x="392.3" y="710.8" font-size="10.4" font-family='"Liberation Serif", serif' text-anchor="middle" fill="#1a1a1a" stroke="#1a1a1a" stroke-width="0.18">0</text>
<path d="M437.77,697v-2.8M437.77,494.5v2.8" stroke="#333" stroke-width="1" fill="none"/>
<text x="439.77" y="710.8" font-size="10.4" font-family='"Liberation Serif", serif' text-anchor="middle" fill="#1a1a1a" stroke="#1a1a1a" stroke-width="0.18">50</text>
<path d="M485.23,697v-2.8M485.23,494.5v2.8" stroke="#333" stroke-width="1" fill="none"/>
<text x="487.23" y="710.8" font-size="10.4" font-family='"Liberation Serif", serif' text-anchor="middle" fill="#1a1a1a" stroke="#1a1a1a" stroke-width="0.18">100</text>
<path d="M532.7,697v-2.8M532.7,494.5v2.8" stroke="#333" stroke-width="1" fill="none"/>
<text x="534.7" y="710.8" font-size="10.4" font-family='"Liberation Serif", serif' text-anchor="middle" fill="#1a1a1a" stroke="#1a1a1a" stroke-width="0.18">150</text>
<path d="M580.17,697v-2.8M580.17,494.5v2.8" stroke="#333" stroke-width="1" fill="none"/>
<text x="582.17" y="710.8" font-size="10.4" font-family='"Liberation Serif", serif' text-anchor="middle" fill="#1a1a1a" stroke="#1a1a1a" stroke-width="0.18">200</text>
<path d="M627.63,697v-2.8M627.63,494.5v2.8" stroke="#333" stroke-width="1" fill="none"/>
<text x="629.63" y="710.8" font-size="10.4" font-family='"Liberation Serif", serif' text-anchor="middle" fill="#1a1a1a" stroke="#1a1a1a" stroke-width="0.18">250</text>
<path d="M675.1,697v-2.8M675.1,494.5v2.8" stroke="#333" stroke-width="1" fill="none"/>
<text x="677.1" y="710.8" font-size="10.4" font-family='"Liberation Serif", serif' text-anchor="middle" fill="#1a1a1a" stroke="#1a1a1a" stroke-width="0.18">300</text>
<g clip-path="url(#c5)" fill="none">
<path d="M394.35,637.64V640.64" stroke="#5e5e5e" stroke-width="0.9" stroke-dasharray="1.2,0.6"/>
<path d="M392.55,637.64h3.6M392.55,640.64h3.6" stroke="#5e5e5e" stroke-width="0.9"/>
<path d="M393.15,639.14h2.4" stroke="#555" stroke-width="1.2"/>
<path d="M403.85,637.64V640.64" stroke="#5e5e5e" stroke-width="0.9" stroke-dasharray="1.2,0.6"/>
<path d="M402.05,637.64h3.6M402.05,640.64h3.6" stroke="#5e5e5e" stroke-width="0.9"/>
<path d="M402.65,639.14h2.4" stroke="#555" stroke-width="1.2"/>
<path d="M413.35,637.64V640.64" stroke="#5e5e5e" stroke-width="0.9" stroke-dasharray="1.2,0.6"/>
<path d="M411.55,637.64h3.6M411.55,640.64h3.6" stroke="#5e5e5e" stroke-width="0.9"/>
<path d="M412.15,639.14h2.4" stroke="#555" stroke-width="1.2"/>
<path d="M422.85,637.64V640.64" stroke="#5e5e5e" stroke-width="0.9" stroke-dasharray="1.2,0.6"/>
<path d="M421.05,637.64h3.6M421.05,640.64h3.6" stroke="#5e5e5e" stroke-width="0.9"/>
<path d="M421.65,639.14h2.4" stroke="#555" stroke-width="1.2"/>
<path d="M432.35,637.64V640.64" stroke="#5e5e5e" stroke-width="0.9" stroke-dasharray="1.2,0.6"/>
<path d="M430.55,637.64h3.6M430.55,640.64h3.6" stroke="#5e5e5e" stroke-width="0.9"/>
<path d="M431.15,639.14h2.4" stroke="#555" stroke-width="1.2"/>
<path d="M441.85,637.64V640.64" stroke="#5e5e5e" stroke-width="0.9" stroke-dasharray="1.2,0.6"/>
<path d="M440.05,637.64h3.6M440.05,640.64h3.6" stroke="#5e5e5e" stroke-width="0.9"/>
<path d="M440.65,639.14h2.4" stroke="#555" stroke-width="1.2"/>
<path d="M451.35,637.54V640.74" stroke="#5e5e5e" stroke-width="0.9" stroke-dasharray="1.2,0.6"/>
<path d="M449.55,637.54h3.6M449.55,640.74h3.6" stroke="#5e5e5e" stroke-width="0.9"/>
<path d="M450.15,639.14h2.4" stroke="#555" stroke-width="1.2"/>
<path d="M460.85,636.34V641.94" stroke="#5e5e5e" stroke-width="0.9" stroke-dasharray="1.2,0.6"/>
<path d="M459.05,636.34h3.6M459.05,641.94h3.6" stroke="#5e5e5e" stroke-width="0.9"/>
<path d="M459.65,639.14h2.4" stroke="#555" stroke-width="1.2"/>
<path d="M470.35,635.34V642.94" stroke="#5e5e5e" stroke-width="0.9" stroke-dasharray="1.2,0.6"/>
<path d="M468.55,635.34h3.6M468.55,642.94h3.6" stroke="#5e5e5e" stroke-width="0.9"/>
<path d="M469.15,639.14h2.4" stroke="#555" stroke-width="1.2"/>
<path d="M479.85,634.84V643.44" stroke="#5e5e5e" stroke-width="0.9" stroke-dasharray="1.2,0.6"/>
<path d="M478.05,634.84h3.6M478.05,643.44h3.6" stroke="#5e5e5e" stroke-width="0.9"/>
<path d="M478.65,639.14h2.4" stroke="#555" stroke-width="1.2"/>
<path d="M489.35,635.94V642.34" stroke="#5e5e5e" stroke-width="0.9" stroke-dasharray="1.2,0.6"/>
<path d="M487.55,635.94h3.6M487.55,642.34h3.6" stroke="#5e5e5e" stroke-width="0.9"/>
<path d="M488.15,639.14h2.4" stroke="#555" stroke-width="1.2"/>
<path d="M498.85,635.34V642.94" stroke="#5e5e5e" stroke-width="0.9" stroke-dasharray="1.2,0.6"/>
<path d="M497.05,635.34h3.6M497.05,642.94h3.6" stroke="#5e5e5e" stroke-width="0.9"/>
<path d="M497.65,639.14h2.4" stroke="#555" stroke-width="1.2"/>
<path d="M508.35,634.64V643.64" stroke="#5e5e5e" stroke-width="0.9" stroke-dasharray="1.2,0.6"/>
<path d="M506.55,634.64h3.6M506.55,643.64h3.6" stroke="#5e5e5e" stroke-width="0.9"/>
<path d="M507.15,639.14h2.4" stroke="#555" stroke-width="1.2"/>
<path d="M517.85,634.44V643.84" stroke="#5e5e5e" stroke-width="0.9" stroke-dasharray="1.2,0.6"/>
<path d="M516.05,634.44h3.6M516.05,643.84h3.6" stroke="#5e5e5e" stroke-width="0.9"/>
<path d="M516.65,639.14h2.4" stroke="#555" stroke-width="1.2"/>
<path d="M527.35,633.44V644.84" stroke="#5e5e5e" stroke-width="0.9" stroke-dasharray="1.2,0.6"/>
<path d="M525.55,633.44h3.6M525.55,644.84h3.6" stroke="#5e5e5e" stroke-width="0.9"/>
<path d="M526.15,639.14h2.4" stroke="#555" stroke-width="1.2"/>
<path d="M536.85,632.94V645.34" stroke="#5e5e5e" stroke-width="0.9" stroke-dasharray="1.2,0.6"/>
<path d="M535.05,632.94h3.6M535.05,645.34h3.6" stroke="#5e5e5e" stroke-width="0.9"/>
<path d="M535.65,639.14h2.4" stroke="#555" stroke-width="1.2"/>
<path d="M546.35,632.54V645.74" stroke="#5e5e5e" stroke-width="0.9" stroke-dasharray="1.2,0.6"/>
<path d="M544.55,632.54h3.6M544.55,645.74h3.6" stroke="#5e5e5e" stroke-width="0.9"/>
<path d="M545.15,639.14h2.4" stroke="#555" stroke-width="1.2"/>
<path d="M555.85,631.84V646.44" stroke="#5e5e5e" stroke-width="0.9" stroke-dasharray="1.2,0.6"/>
<path d="M554.05,631.84h3.6M554.05,646.44h3.6" stroke="#5e5e5e" stroke-width="0.9"/>
<path d="M554.65,639.14h2.4" stroke="#555" stroke-width="1.2"/>
<path d="M565.35,631.54V646.74" stroke="#5e5e5e" stroke-width="0.9" stroke-dasharray="1.2,0.6"/>
<path d="M563.55,631.54h3.6M563.55,646.74h3.6" stroke="#5e5e5e" stroke-width="0.9"/>
<path d="M564.15,639.14h2.4" stroke="#555" stroke-width="1.2"/>
<path d="M574.85,631.54V646.74" stroke="#5e5e5e" stroke-width="0.9" stroke-dasharray="1.2,0.6"/>
<path d="M573.05,631.54h3.6M573.05,646.74h3.6" stroke="#5e5e5e" stroke-width="0.9"/>
<path d="M573.65,639.14h2.4" stroke="#555" stroke-width="1.2"/>
<path d="M584.35,631.14V647.14" stroke="#5e5e5e" stroke-width="0.9" stroke-dasharray="1.2,0.6"/>
<path d="M582.55,631.14h3.6M582.55,647.14h3.6" stroke="#5e5e5e" stroke-width="0.9"/>
<path d="M583.15,639.14h2.4" stroke="#555" stroke-width="1.2"/>
<path d="M593.85,630.64V647.64" stroke="#5e5e5e" stroke-width="0.9" stroke-dasharray="1.2,0.6"/>
<path d="M592.05,630.64h3.6M592.05,647.64h3.6" stroke="#5e5e5e" stroke-width="0.9"/>
<path d="M592.65,639.14h2.4" stroke="#555" stroke-width="1.2"/>
<path d="M603.35,630.14V648.14" stroke="#5e5e5e" stroke-width="0.9" stroke-dasharray="1.2,0.6"/>
<path d="M601.55,630.14h3.6M601.55,648.14h3.6" stroke="#5e5e5e" stroke-width="0.9"/>
<path d="M602.15,639.14h2.4" stroke="#555" stroke-width="1.2"/>
<path d="M612.85,629.34V648.94" stroke="#5e5e5e" stroke-width="0.9" stroke-dasharray="1.2,0.6"/>
<path d="M611.05,629.34h3.6M611.05,648.94h3.6" stroke="#5e5e5e" stroke-width="0.9"/>
<path d="M611.65,639.14h2.4" stroke="#555" stroke-width="1.2"/>
<path d="M622.35,629.14V649.14" stroke="#5e5e5e" stroke-width="0.9" stroke-dasharray="1.2,0.6"/>
<path d="M620.55,629.14h3.6M620.55,649.14h3.6" stroke="#5e5e5e" stroke-width="0.9"/>
<path d="M621.15,639.14h2.4" stroke="#555" stroke-width="1.2"/>
<path d="M631.85,628.74V649.54" stroke="#5e5e5e" stroke-width="0.9" stroke-dasharray="1.2,0.6"/>
<path d="M630.05,628.74h3.6M630.05,649.54h3.6" stroke="#5e5e5e" stroke-width="0.9"/>
<path d="M630.65,639.14h2.4" stroke="#555" stroke-width="1.2"/>
<path d="M641.35,628.14V650.14" stroke="#5e5e5e" stroke-width="0.9" stroke-dasharray="1.2,0.6"/>
<path d="M639.55,628.14h3.6M639.55,650.14h3.6" stroke="#5e5e5e" stroke-width="0.9"/>
<path d="M640.15,639.14h2.4" stroke="#555" stroke-width="1.2"/>
<path d="M650.85,626.84V651.44" stroke="#5e5e5e" stroke-width="0.9" stroke-dasharray="1.2,0.6"/>
<path d="M649.05,626.84h3.6M649.05,651.44h3.6" stroke="#5e5e5e" stroke-width="0.9"/>
<path d="M649.65,639.14h2.4" stroke="#555" stroke-width="1.2"/>
<path d="M660.35,624.74V653.54" stroke="#5e5e5e" stroke-width="0.9" stroke-dasharray="1.2,0.6"/>
<path d="M658.55,624.74h3.6M658.55,653.54h3.6" stroke="#5e5e5e" stroke-width="0.9"/>
<path d="M659.15,639.14h2.4" stroke="#555" stroke-width="1.2"/>
<path d="M669.85,626.84V651.44" stroke="#5e5e5e" stroke-width="0.9" stroke-dasharray="1.2,0.6"/>
<path d="M668.05,626.84h3.6M668.05,651.44h3.6" stroke="#5e5e5e" stroke-width="0.9"/>
<path d="M668.65,639.14h2.4" stroke="#555" stroke-width="1.2"/>
<path d="M389.6,648.4H399.1V645.51H408.6V611.95H418.1V599.8H427.6V599.22H437.1V598.06H446.6V602.4H456.1V604.72H465.6V609.35H475.1V616.58H484.6V620.63H494.1V629.6H503.6V628.15H513.1V633.94H522.6V633.94H532.1V647.24H541.6V649.85H551.1V644.64H560.6V649.85H570.1V669.81H579.6V657.37H589.1V658.81H598.6V664.89H608.1V658.24H617.6V681.96H627.1V657.37H636.6V653.32H646.1V669.81H655.6V655.92H665.1V668.36H674.6" stroke="#ff00ff" stroke-width="1.4" stroke-dasharray="2,1" stroke-linejoin="miter"/>
<path d="M389.6,629.6H399.1V633.36H408.6V614.15H418.1V612.82H427.6V615.71H437.1V619.18H446.6V624.39H456.1V627.28H465.6V629.02H475.1V629.02H484.6V627.28H494.1V625.84H503.6V624.68H513.1V626.7H522.6V623.52H532.1V625.84H541.6V628.44H551.1V626.7H560.6V629.89H570.1V629.6H579.6V627.28H589.1V630.46H598.6V629.16H608.1V628.15H617.6V637.7H627.1V634.8H636.6V627.28H646.1V639.14H655.6V637.7H665.1V637.7H674.6" stroke="#33ee33" stroke-width="1.4" stroke-linejoin="miter"/>
<path d="M389.6,649.12H399.1V653.61H408.6V633.07H418.1V630.46H427.6V629.6H437.1V627.86H446.6V628.15H456.1V628.15H465.6V630.46H475.1V632.2H484.6V633.94H494.1V634.51H503.6V636.25H513.1V636.83H522.6V639.72H532.1V640.3H541.6V632.49H551.1V641.75H560.6V639.72H570.1V636.83H579.6V638.85H589.1V651.29H598.6V639.14H608.1V636.83H617.6V655.34H627.1V636.25H636.6V635.87H646.1V642.04H655.6V646.66H665.1V642.33H674.6" stroke="#33ee33" stroke-width="1.4" stroke-linejoin="miter"/>
<path d="M389.6,626.41H399.1V650.14H408.6V628.29H418.1V621.5H427.6V618.6H437.1V616.87H446.6V612.82H456.1V612.82H465.6V615.13H475.1V611.95H484.6V612.82H494.1V613.4H503.6V606.74H513.1V615.71H522.6V606.74H532.1V608.33H541.6V612.82H551.1V616.29H560.6V603.85H570.1V612.24H579.6V606.16H589.1V607.03H598.6V613.98H608.1V603.56H617.6V609.35H627.1V596.91H636.6V634.51H646.1V615.42H655.6V603.56H665.1V627.57H674.6" stroke="#2a2a2a" stroke-width="1.4" stroke-linejoin="miter"/>
<path d="M389.6,636.37H399.1V652.16H408.6V630.18H418.1V628.73H427.6V629.6H437.1V631.62H446.6V635.96H456.1V638.28H465.6V642.61H475.1V646.09H484.6V649.27H494.1V651.29H503.6V652.16H513.1V654.19H522.6V655.63H532.1V657.37H541.6V655.63H551.1V657.37H560.6V652.74H570.1V655.92H579.6V662H589.1V668.94H598.6V665.18H608.1V648.4H617.6V659.68H627.1V654.48H636.6V655.63H646.1V661.13H655.6V646.95H665.1V652.74H674.6" stroke="#2a2a2a" stroke-width="1.4" stroke-linejoin="miter"/>
</g>
<rect x="390.3" y="494.5" width="284.8" height="202.5" fill="none" stroke="#2e2e2e" stroke-width="1.3"/>
<text x="0" y="0" font-size="11.8" font-family='"Liberation Serif", serif' font-style="italic" text-anchor="middle" textLength="8.8" lengthAdjust="spacingAndGlyphs" fill="#1a1a1a" transform="translate(360,594.3) rotate(-90)">R</text>
<text x="577.1" y="506.6" font-size="9.2" font-family='"Liberation Mono", monospace' text-anchor="start" fill="#1a1a1a" textLength="20.4" lengthAdjust="spacingAndGlyphs" stroke="#1a1a1a" stroke-width="0.2">NNLO</text>
<text x="603.7" y="507.2" font-size="11" font-family='"Liberation Serif", serif' text-anchor="middle" fill="#1a1a1a" textLength="7" lengthAdjust="spacingAndGlyphs" stroke="#1a1a1a" stroke-width="0.1">−</text>
<text x="610.5" y="506.6" font-size="9.2" font-family='"Liberation Mono", monospace' text-anchor="start" fill="#1a1a1a" textLength="15.3" lengthAdjust="spacingAndGlyphs" stroke="#1a1a1a" stroke-width="0.2">QCD</text>
<path d="M632.4,503.2H662.2" stroke="#4a4a4a" stroke-width="0.95" stroke-dasharray="1.4,0.5" fill="none"/>
<path d="M632.4,501.5v3.4M662.2,501.5v3.4" stroke="#4a4a4a" stroke-width="0.95" fill="none"/>
<path d="M646.1,503.8l1.2,-1.6l1.2,1.6z" fill="#666"/>
<text x="584.1" y="517.4" font-size="9.2" font-family='"Liberation Mono", monospace' text-anchor="start" fill="#1a1a1a" textLength="41.7" lengthAdjust="spacingAndGlyphs" stroke="#1a1a1a" stroke-width="0.2">DYNNLOPS</text>
<path d="M632.4,514H662.2" stroke="#ff00ff" stroke-width="1.6" stroke-dasharray="2,1" fill="none"/>
<text x="585.9" y="527.6" font-size="9.2" font-family='"Liberation Mono", monospace' text-anchor="start" fill="#1a1a1a" textLength="30.8" lengthAdjust="spacingAndGlyphs" stroke="#1a1a1a" stroke-width="0.2">SHERPA</text>
<text x="617.5" y="527.6" font-size="10.4" font-family='"Liberation Serif", serif' text-anchor="start" fill="#1a1a1a" font-style="italic" textLength="7.6" lengthAdjust="spacingAndGlyphs" stroke="#1a1a1a" stroke-width="0.18">Q</text>
<path d="M632.4,524.2H662.2" stroke="#44ee44" stroke-width="1.8" fill="none"/>
<text x="567.8" y="538.4" font-size="9.2" font-family='"Liberation Mono", monospace' text-anchor="start" fill="#1a1a1a" textLength="29.9" lengthAdjust="spacingAndGlyphs" stroke="#1a1a1a" stroke-width="0.2">SHERPA</text>
<text x="598.5" y="538.4" font-size="10.4" font-family='"Liberation Serif", serif' text-anchor="start" fill="#1a1a1a" font-style="italic" textLength="4.4" lengthAdjust="spacingAndGlyphs" stroke="#1a1a1a" stroke-width="0.18">μ</text>
<text x="603.3" y="538.4" font-size="10.4" font-family='"Liberation Serif", serif' text-anchor="start" fill="#1a1a1a" font-style="italic" textLength="8.6" lengthAdjust="spacingAndGlyphs" stroke="#1a1a1a" stroke-width="0.18">R,</text>
<text x="617.9" y="538.4" font-size="10.4" font-family='"Liberation Serif", serif' text-anchor="start" fill="#1a1a1a" font-style="italic" textLength="7.6" lengthAdjust="spacingAndGlyphs" stroke="#1a1a1a" stroke-width="0.18">F</text>
<path d="M632.4,535H662.2" stroke="#333" stroke-width="1.8" fill="none"/>
<text x="414.2" y="525.8" font-size="10.2" font-family='"Liberation Serif", serif' text-anchor="start" fill="#1a1a1a" textLength="50" lengthAdjust="spacingAndGlyphs" stroke="#1a1a1a" stroke-width="0.18">LHC 8 TeV</text>
<text x="414.2" y="540.2" font-size="10.2" font-family='"Liberation Serif", serif' text-anchor="start" fill="#1a1a1a" textLength="45.6" lengthAdjust="spacingAndGlyphs" stroke="#1a1a1a" stroke-width="0.18">muon bare</text>
<path d="M415.1,550.7H428.6" stroke="#1a1a1a" stroke-width="0.9"/>
<text x="421.85" y="549.1" font-size="6" font-family='"Liberation Serif", serif' text-anchor="middle" fill="#1a1a1a" font-style="italic" textLength="7.4" lengthAdjust="spacingAndGlyphs" stroke="#1a1a1a" stroke-width="0.1">dσ</text>
<text x="415.3" y="556.7" font-size="6.2" font-family='"Liberation Serif", serif' text-anchor="start" fill="#1a1a1a" font-style="italic" textLength="7.2" lengthAdjust="spacingAndGlyphs" stroke="#1a1a1a" stroke-width="0.1">dp</text>
<text x="423.1" y="553.6" font-size="5" font-family='"Liberation Serif", serif' text-anchor="start" fill="#1a1a1a" font-style="italic" textLength="3.8" lengthAdjust="spacingAndGlyphs" stroke="#1a1a1a" stroke-width="0.1">Z</text>
<path d="M423.1,559.7H426.3M424.7,559.7V557.1" stroke="#1a1a1a" stroke-width="0.5" fill="none"/>
<path d="M600.2,566.9h4.1" stroke="#1a1a1a" stroke-width="0.55"/>
<text x="602.25" y="566" font-size="6.8" font-family='"Liberation Serif", serif' text-anchor="middle" fill="#1a1a1a" stroke="#1a1a1a" stroke-width="0.1">1</text>
<text x="602.25" y="572.8" font-size="6.8" font-family='"Liberation Serif", serif' text-anchor="middle" fill="#1a1a1a" stroke="#1a1a1a" stroke-width="0.1">2</text>
<text x="608.9" y="570.5" font-size="11.6" font-family='"Liberation Serif", serif' text-anchor="start" fill="#1a1a1a" textLength="6.2" lengthAdjust="spacingAndGlyphs" stroke="#1a1a1a" stroke-width="0.18">≤</text>
<path d="M619.6,567.2h21.5" stroke="#1a1a1a" stroke-width="0.65"/>
<text x="630.4" y="565.1" font-size="7.4" font-family='"Liberation Serif", serif' text-anchor="middle" fill="#1a1a1a" font-style="italic" stroke="#1a1a1a" stroke-width="0.1">Q</text>
<text x="630.6" y="573.5" font-size="7.6" font-family='"Liberation Serif", serif' text-anchor="middle" fill="#1a1a1a" font-style="italic" textLength="19" lengthAdjust="spacingAndGlyphs" >XXX</text>
<text x="645.1" y="570.5" font-size="11.6" font-family='"Liberation Serif", serif' text-anchor="start" fill="#1a1a1a" textLength="6.4" lengthAdjust="spacingAndGlyphs" stroke="#1a1a1a" stroke-width="0.18">≤</text>
<text x="655.4" y="570.1" font-size="10.4" font-family='"Liberation Serif", serif' text-anchor="start" fill="#1a1a1a" textLength="5.1" lengthAdjust="spacingAndGlyphs" stroke="#1a1a1a" stroke-width="0.18">2</text>
<text x="533.3" y="588.8" font-size="10.4" font-family='"Liberation Serif", serif' text-anchor="start" fill="#1a1a1a" font-style="italic" textLength="4.4" lengthAdjust="spacingAndGlyphs" stroke="#1a1a1a" stroke-width="0.18">μ</text>
<text x="539.8" y="590" font-size="7" font-family='"Liberation Serif", serif' text-anchor="start" fill="#1a1a1a" font-style="italic" textLength="5" lengthAdjust="spacingAndGlyphs" stroke="#1a1a1a" stroke-width="0.1">R</text>
<text x="548.4" y="589.3" font-size="11.4" font-family='"Liberation Serif", serif' text-anchor="start" fill="#1a1a1a" textLength="7.4" lengthAdjust="spacingAndGlyphs" stroke="#1a1a1a" stroke-width="0.18">=</text>
<text x="559.6" y="588.8" font-size="10.4" font-family='"Liberation Serif", serif' text-anchor="start" fill="#1a1a1a" font-style="italic" textLength="4.4" lengthAdjust="spacingAndGlyphs" stroke="#1a1a1a" stroke-width="0.18">μ</text>
<text x="566" y="590" font-size="7" font-family='"Liberation Serif", serif' text-anchor="start" fill="#1a1a1a" font-style="italic" textLength="5" lengthAdjust="spacingAndGlyphs" stroke="#1a1a1a" stroke-width="0.1">F</text>
<text x="574.7" y="589.3" font-size="11.4" font-family='"Liberation Serif", serif' text-anchor="start" fill="#1a1a1a" textLength="7.4" lengthAdjust="spacingAndGlyphs" stroke="#1a1a1a" stroke-width="0.18">=</text>
<text x="585.9" y="588.8" font-size="10.4" font-family='"Liberation Serif", serif' text-anchor="start" fill="#1a1a1a" font-style="italic" textLength="4.4" lengthAdjust="spacingAndGlyphs" stroke="#1a1a1a" stroke-width="0.18">μ</text>
<text x="592.1" y="588.8" font-size="10.4" font-family='"Liberation Serif", serif' text-anchor="start" fill="#1a1a1a" stroke="#1a1a1a" stroke-width="0.18">,</text>
<path d="M606.7,585.5h4.1" stroke="#1a1a1a" stroke-width="0.55"/>
<text x="608.75" y="584.6" font-size="6.8" font-family='"Liberation Serif", serif' text-anchor="middle" fill="#1a1a1a" stroke="#1a1a1a" stroke-width="0.1">1</text>
<text x="608.75" y="591.4" font-size="6.8" font-family='"Liberation Serif", serif' text-anchor="middle" fill="#1a1a1a" stroke="#1a1a1a" stroke-width="0.1">2</text>
<text x="615.4" y="589.1" font-size="11.6" font-family='"Liberation Serif", serif' text-anchor="start" fill="#1a1a1a" textLength="6.6" lengthAdjust="spacingAndGlyphs" stroke="#1a1a1a" stroke-width="0.18">≤</text>
<path d="M626.7,585.7h12.9" stroke="#1a1a1a" stroke-width="0.65"/>
<text x="633.2" y="584.2" font-size="6.8" font-family='"Liberation Serif", serif' text-anchor="middle" fill="#1a1a1a" font-style="italic" stroke="#1a1a1a" stroke-width="0.1">μ</text>
<text x="628.2" y="592.1" font-size="6.8" font-family='"Liberation Serif", serif' text-anchor="start" fill="#1a1a1a" font-style="italic" textLength="6.2" lengthAdjust="spacingAndGlyphs" stroke="#1a1a1a" stroke-width="0.1">M</text>
<text x="634.6" y="593.1" font-size="4.8" font-family='"Liberation Serif", serif' text-anchor="start" fill="#1a1a1a" font-style="italic" textLength="3.4" lengthAdjust="spacingAndGlyphs" stroke="#1a1a1a" stroke-width="0.1">ll</text>
<text x="644" y="589.1" font-size="11.6" font-family='"Liberation Serif", serif' text-anchor="start" fill="#1a1a1a" textLength="6.6" lengthAdjust="spacingAndGlyphs" stroke="#1a1a1a" stroke-width="0.18">≤</text>
<text x="654.3" y="588.9" font-size="10.4" font-family='"Liberation Serif", serif' text-anchor="start" fill="#1a1a1a" textLength="5.1" lengthAdjust="spacingAndGlyphs" stroke="#1a1a1a" stroke-width="0.18">2</text>
<text x="414.1" y="684.5" font-size="10.2" font-family='"Liberation Serif", serif' text-anchor="start" fill="#1a1a1a" textLength="6.1" lengthAdjust="spacingAndGlyphs" stroke="#1a1a1a" stroke-width="0.18">R</text>
<text x="420.4" y="685.7" font-size="11.2" font-family='"Liberation Serif", serif' text-anchor="start" fill="#1a1a1a" textLength="7.4" lengthAdjust="spacingAndGlyphs" stroke="#1a1a1a" stroke-width="0.18">=</text>
<text x="428.4" y="684.5" font-size="8.4" font-family='"Liberation Mono", monospace' text-anchor="start" fill="#1a1a1a" textLength="25.6" lengthAdjust="spacingAndGlyphs" stroke="#1a1a1a" stroke-width="0.2">code/</text>
<text x="454.4" y="684.5" font-size="9.2" font-family='"Liberation Mono", monospace' text-anchor="start" fill="#1a1a1a" textLength="42.6" lengthAdjust="spacingAndGlyphs" stroke="#1a1a1a" stroke-width="0.2">NNLO-QCD</text>
<text x="509.8" y="726" font-size="10.6" font-family='"Liberation Serif", serif' text-anchor="start" fill="#1a1a1a" font-style="italic" textLength="6.3" lengthAdjust="spacingAndGlyphs" stroke="#1a1a1a" stroke-width="0.18">p</text>
<text x="516.4" y="722.8" font-size="7.6" font-family='"Liberation Serif", serif' text-anchor="start" fill="#1a1a1a" font-style="italic" textLength="5" lengthAdjust="spacingAndGlyphs" stroke="#1a1a1a" stroke-width="0.1">Z</text>
<path d="M516.6,730.5H522.6M519.6,730.5V724.9" stroke="#1a1a1a" stroke-width="0.75" fill="none"/>
<text x="528.4" y="726.6" font-size="10.4" font-family='"Liberation Serif", serif' text-anchor="start" fill="#1a1a1a" textLength="31.5" lengthAdjust="spacingAndGlyphs" stroke="#1a1a1a" stroke-width="0.18">(GeV)</text>
</svg></body></html>
